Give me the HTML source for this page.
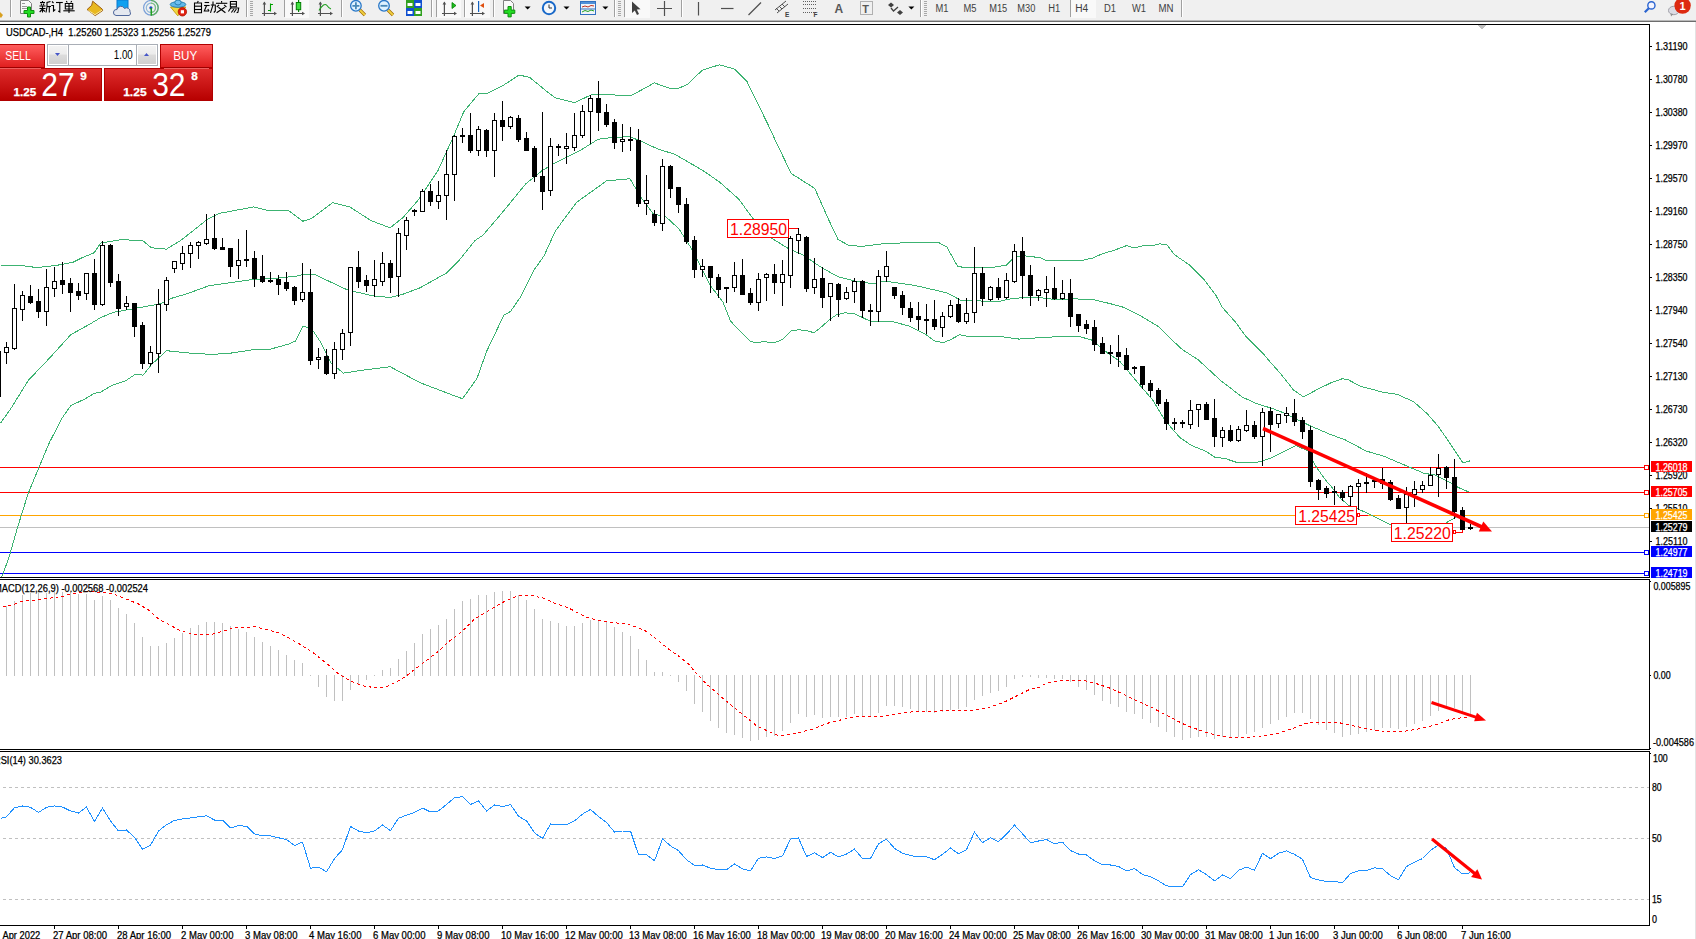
<!DOCTYPE html><html><head><meta charset="utf-8"><style>html,body{margin:0;padding:0;width:1696px;height:939px;overflow:hidden;background:#fff}svg{position:absolute;left:0;top:0;display:block}text{font-family:"Liberation Sans",sans-serif}.bt{stroke:currentColor}</style></head><body>
<svg width="1696" height="939" viewBox="0 0 1696 939">
<rect x="0" y="0" width="1696" height="20" fill="#f0f0f0"/><rect x="0" y="20" width="1696" height="1" fill="#b9b9b9"/><rect x="0" y="21" width="1696" height="1" fill="#6d6d6d"/><polygon points="0,12 3,15 1,18 0,17" fill="#d8a020"/><rect x="10" y="0" width="1" height="17" fill="#a0a0a0"/><rect x="11" y="0" width="1" height="17" fill="#ffffff"/><path d="M20.5,0.5 h8 l3,3 v10 h-11 z" fill="#fafafa" stroke="#808080" stroke-width="1"/><path d="M22,3.5 h3 M22,6.5 h5 M22,8.5 h5" stroke="#9a9a9a" stroke-width="1"/><path d="M27.5,7 h3 v3.5 h3.5 v3 h-3.5 v3.5 h-3 v-3.5 h-3.5 v-3 h3.5 z" fill="#22dd22" stroke="#109010" stroke-width="1"/><g transform="translate(39,1) scale(1.0)" fill="none" stroke="#000" stroke-width="1.1"><path d="M1,1.5 h5"/><path d="M3.5,0 v1.5"/><path d="M2,2.5 l0.8,1.8"/><path d="M5,2.5 l-0.8,1.8"/><path d="M0.5,5 h6"/><path d="M0.5,7.5 h6"/><path d="M3.5,5 v6.5"/><path d="M3.5,8 l-2.8,3"/><path d="M3.5,8.5 l2.5,2"/><path d="M11.5,0.5 l-3.5,1 v4.5 l-1,5.5"/><path d="M8,5.5 h4"/><path d="M10.3,5.5 v6"/></g><g transform="translate(51,1) scale(1.0)" fill="none" stroke="#000" stroke-width="1.1"><path d="M1,0.5 l1.5,1.5"/><path d="M0.3,4.5 h2.2 v5.5 l1.8,-1.5"/><path d="M5,1.5 h6.8"/><path d="M8.8,1.5 v9.5 l-1.6,-1"/></g><g transform="translate(63,1) scale(1.0)" fill="none" stroke="#000" stroke-width="1.1"><path d="M3.3,0 l1,1.5"/><path d="M8.7,0 l-1,1.5"/><path d="M2.3,2.5 h7.4 v5.5 h-7.4 z"/><path d="M2.3,5.2 h7.4"/><path d="M6,2.5 v9.5"/><path d="M0.3,9.8 h11.4"/></g><g transform="translate(192.0,1) scale(1.0)" fill="none" stroke="#000" stroke-width="1.1"><path d="M6.3,0 l-1,1.8"/><path d="M2.5,2 h7 v9.8 h-7 z"/><path d="M2.5,5.2 h7"/><path d="M2.5,8.5 h7"/></g><g transform="translate(203.8,1) scale(1.0)" fill="none" stroke="#000" stroke-width="1.1"><path d="M0.8,1.5 h4.5"/><path d="M0.3,4.5 h5.5"/><path d="M2.8,4.5 l-2.3,5.5 h4.8"/><path d="M4,8 l1.2,2"/><path d="M7,4 h4.5 v6 l-1.5,1.5"/><path d="M9.2,0.5 v3.5 l-2.5,7.8"/></g><g transform="translate(215.6,1) scale(1.0)" fill="none" stroke="#000" stroke-width="1.1"><path d="M6,0 v1.8"/><path d="M0.3,2.3 h11.4"/><path d="M3.5,3.8 l-2.3,2.2"/><path d="M8.5,3.8 l2.3,2.2"/><path d="M2.8,6.2 l7,5.6"/><path d="M9.2,6.2 l-8.2,5.6"/></g><g transform="translate(227.4,1) scale(1.0)" fill="none" stroke="#000" stroke-width="1.1"><path d="M3,0.5 h6 v5.3 h-6 z"/><path d="M3,3.1 h6"/><path d="M2.5,7 h8.8 l-0.8,4.3 l-1.3,0.5"/><path d="M4,6 l-3,4.5"/><path d="M6.5,8 l-2.5,3.5"/><path d="M9,8 l-2.5,3.5"/></g><polygon points="92.7,1.2 102.3,9.2 102.6,10.6 95.2,15.6 87.1,9.6 91.7,5.3" fill="#e8b820" stroke="#a06010" stroke-width="1"/><path d="M88.5,10.5 l6.5,4.2 l7,-4.5" stroke="#f8e8a0" stroke-width="1" fill="none"/><path d="M117,0 h11 v9 h-11 z" fill="#10a0f0" stroke="#0878d0" stroke-width="1"/><path d="M116,15.5 a3,3 0 0 1 1,-6 a4,4 0 0 1 7.5,-1 a3.5,3.5 0 0 1 5.5,3.5 a2.2,2.2 0 0 1 -1,3.5 z" fill="#e4e8f0" stroke="#50689c" stroke-width="1"/><g fill="none" stroke-width="1.2"><circle cx="150.9" cy="7.8" r="7.3" stroke="#7aa0d8"/><circle cx="150.9" cy="7.8" r="4.6" stroke="#90b8d8"/><path d="M150.9,0.5 a7.3,7.3 0 0 1 0,14.6" stroke="#60b060"/><path d="M150.9,3.2 a4.6,4.6 0 0 1 0,9.2" stroke="#80c080"/></g><circle cx="150.9" cy="7.8" r="1.6" fill="#2050c0"/><rect x="150.5" y="8" width="1.5" height="7.6" fill="#20a020"/><polygon points="170.5,7 185.8,7 177.8,15.8" fill="#f0d840" stroke="#c8a010" stroke-width="1"/><ellipse cx="178" cy="4.5" rx="7.8" ry="2.8" fill="#60b8e8" stroke="#2880b0" stroke-width="1"/><ellipse cx="178" cy="2.5" rx="3.2" ry="2.5" fill="#70c0f0" stroke="#2880b0" stroke-width="1"/><circle cx="182.4" cy="11.8" r="4.2" fill="#e02010" stroke="#b01000" stroke-width="0.8"/><rect x="180.8" y="10.2" width="3.2" height="3.2" fill="#fff"/><rect x="246" y="0" width="1" height="17" fill="#a0a0a0"/><rect x="247" y="0" width="1" height="17" fill="#ffffff"/><rect x="250" y="1" width="3" height="1" fill="#a8a8a8"/><rect x="250" y="3" width="3" height="1" fill="#a8a8a8"/><rect x="250" y="5" width="3" height="1" fill="#a8a8a8"/><rect x="250" y="7" width="3" height="1" fill="#a8a8a8"/><rect x="250" y="9" width="3" height="1" fill="#a8a8a8"/><rect x="250" y="11" width="3" height="1" fill="#a8a8a8"/><rect x="250" y="13" width="3" height="1" fill="#a8a8a8"/><rect x="250" y="15" width="3" height="1" fill="#a8a8a8"/><path d="M264.4,2.5 v13.5 M262,13.5 h14" stroke="#505050" stroke-width="1.2" fill="none"/><polygon points="264.4,1.5 262.6,4.5 266.2,4.5" fill="#505050"/><polygon points="277,13.5 274,11.7 274,15.3" fill="#505050"/><path d="M270.5,3.5 v8 M270.5,4.5 h2.5 M268,10.5 h2.5" stroke="#00a000" stroke-width="1.1" fill="none"/><rect x="284" y="0" width="1" height="17" fill="#a0a0a0"/><rect x="285" y="0" width="1" height="17" fill="#ffffff"/><rect x="285" y="0" width="24" height="18" fill="#f9f9f9"/><path d="M292.4,2.5 v13.5 M290,13.5 h14" stroke="#505050" stroke-width="1.2" fill="none"/><polygon points="292.4,1.5 290.6,4.5 294.2,4.5" fill="#505050"/><polygon points="305,13.5 302,11.7 302,15.3" fill="#505050"/><rect x="298" y="0" width="1.2" height="12" fill="#008000"/><rect x="296.3" y="2.5" width="4.4" height="7.2" fill="#40e040" stroke="#008000" stroke-width="1"/><path d="M320.4,2.5 v13.5 M318,13.5 h14" stroke="#505050" stroke-width="1.2" fill="none"/><polygon points="320.4,1.5 318.6,4.5 322.2,4.5" fill="#505050"/><polygon points="333,13.5 330,11.7 330,15.3" fill="#505050"/><path d="M319,10.5 Q324,2 327,5.5 Q329,8.5 331,9" stroke="#20a020" stroke-width="1.1" fill="none"/><rect x="341" y="0" width="1" height="17" fill="#a0a0a0"/><rect x="342" y="0" width="1" height="17" fill="#ffffff"/><path d="M359.9,10 l5,5" stroke="#a06800" stroke-width="3.2"/><path d="M359.9,10 l5,5" stroke="#f0d040" stroke-width="1.8"/><circle cx="355.9" cy="5.8" r="5.3" fill="#dff2ff" stroke="#2a78c8" stroke-width="1.3"/><path d="M352.4,5.8 h7 M355.9,2.3 v7" stroke="#4888b8" stroke-width="1.8"/><path d="M388,10 l5,5" stroke="#a06800" stroke-width="3.2"/><path d="M388,10 l5,5" stroke="#f0d040" stroke-width="1.8"/><circle cx="384" cy="5.8" r="5.3" fill="#dff2ff" stroke="#2a78c8" stroke-width="1.3"/><path d="M380.5,5.8 h7" stroke="#4888b8" stroke-width="1.8"/><rect x="406" y="0" width="8" height="8" fill="#30a020"/><rect x="407.5" y="3" width="5" height="3" fill="#fff"/><rect x="414" y="0" width="8" height="8" fill="#1050d0"/><rect x="415.5" y="3" width="5" height="3" fill="#fff"/><rect x="406" y="8" width="8" height="8" fill="#1050d0"/><rect x="407.5" y="11" width="5" height="3" fill="#fff"/><rect x="414" y="8" width="8" height="8" fill="#30a020"/><rect x="415.5" y="11" width="5" height="3" fill="#fff"/><rect x="431" y="0" width="1" height="17" fill="#a0a0a0"/><rect x="432" y="0" width="1" height="17" fill="#ffffff"/><rect x="436" y="0" width="1" height="17" fill="#a0a0a0"/><rect x="437" y="0" width="1" height="17" fill="#ffffff"/><rect x="437" y="0" width="24" height="18" fill="#f9f9f9"/><path d="M444.4,2.5 v13.5 M442,13.5 h14" stroke="#505050" stroke-width="1.2" fill="none"/><polygon points="444.4,1.5 442.6,4.5 446.2,4.5" fill="#505050"/><polygon points="457,13.5 454,11.7 454,15.3" fill="#505050"/><polygon points="452,2.5 452,8.5 456,5.5" fill="#20c020" stroke="#008000" stroke-width="0.8"/><rect x="465" y="0" width="25" height="18" fill="#f9f9f9"/><rect x="464" y="0" width="1" height="17" fill="#a0a0a0"/><rect x="465" y="0" width="1" height="17" fill="#ffffff"/><path d="M472.4,2.5 v13.5 M470,13.5 h14" stroke="#505050" stroke-width="1.2" fill="none"/><polygon points="472.4,1.5 470.6,4.5 474.2,4.5" fill="#505050"/><polygon points="485,13.5 482,11.7 482,15.3" fill="#505050"/><rect x="478" y="1" width="1.2" height="11" fill="#1060c0"/><polygon points="480,5.5 484,3 484,8" fill="#e05010"/><rect x="493" y="0" width="1" height="17" fill="#a0a0a0"/><rect x="494" y="0" width="1" height="17" fill="#ffffff"/><path d="M503.5,0.5 h7 l3,3 v10 h-10 z" fill="#fafafa" stroke="#808080" stroke-width="1"/><path d="M508,6.5 h3.2 v3.6 h3.6 v3.2 h-3.6 v3.6 h-3.2 v-3.6 h-3.6 v-3.2 h3.6 z" fill="#22dd22" stroke="#109010" stroke-width="1"/><polygon points="524.6,6.5 530.6,6.5 527.6,9.5" fill="#000"/><circle cx="549" cy="8" r="7.2" fill="#1868c8"/><circle cx="549" cy="8" r="5.2" fill="#f4f8fc"/><path d="M549,4.5 v3.5 h3" stroke="#303030" stroke-width="1" fill="none"/><polygon points="563.5,6.5 569.5,6.5 566.5,9.5" fill="#000"/><rect x="580.5" y="1.5" width="15" height="13" fill="#f0f4fa" stroke="#3070c0" stroke-width="1"/><rect x="581" y="2" width="14" height="2" fill="#5090d8"/><path d="M582,7 l3,-1 l3,1 l3,-1.5 l3,0.5" stroke="#c03020" stroke-width="1" fill="none"/><path d="M582,12 l3,-1.5 l3,1 l3,-1.5 l3,1" stroke="#20a020" stroke-width="1" fill="none"/><path d="M581,9 h14" stroke="#3070c0" stroke-width="1"/><polygon points="602.4,6.5 608.4,6.5 605.4,9.5" fill="#000"/><rect x="614" y="0" width="1" height="17" fill="#a0a0a0"/><rect x="615" y="0" width="1" height="17" fill="#ffffff"/><rect x="618" y="1" width="3" height="1" fill="#a8a8a8"/><rect x="618" y="3" width="3" height="1" fill="#a8a8a8"/><rect x="618" y="5" width="3" height="1" fill="#a8a8a8"/><rect x="618" y="7" width="3" height="1" fill="#a8a8a8"/><rect x="618" y="9" width="3" height="1" fill="#a8a8a8"/><rect x="618" y="11" width="3" height="1" fill="#a8a8a8"/><rect x="618" y="13" width="3" height="1" fill="#a8a8a8"/><rect x="618" y="15" width="3" height="1" fill="#a8a8a8"/><rect x="624" y="0" width="1" height="17" fill="#a0a0a0"/><rect x="625" y="0" width="1" height="17" fill="#ffffff"/><rect x="625" y="0" width="25" height="18" fill="#f9f9f9"/><polygon points="632,1.5 632,13 634.8,10.5 637,15 639,14 636.8,9.5 640.5,9.2" fill="#404040"/><path d="M657,8.5 h15 M664.5,1 v15" stroke="#505050" stroke-width="1.2"/><rect x="681" y="0" width="1" height="17" fill="#a0a0a0"/><rect x="682" y="0" width="1" height="17" fill="#ffffff"/><path d="M698.5,2 v13.5" stroke="#505050" stroke-width="1.2"/><path d="M721,8.5 h12.5" stroke="#505050" stroke-width="1.2"/><path d="M748.5,15 l12.5,-12.5" stroke="#505050" stroke-width="1.2"/><path d="M775,10 l11,-9 M777,13 l11,-9 M776,8 l3,3 M779,6 l3,3 M782,4 l3,3" stroke="#505050" stroke-width="1" fill="none"/><text x="785" y="16.5" font-size="6.5" font-weight="bold" fill="#404040">E</text><path d="M803,1.5 h14" stroke="#606060" stroke-width="1" stroke-dasharray="1 1"/><path d="M803,4.5 h14" stroke="#606060" stroke-width="1" stroke-dasharray="1 1"/><path d="M803,8.5 h14" stroke="#606060" stroke-width="1" stroke-dasharray="1 1"/><path d="M803,12.5 h14" stroke="#606060" stroke-width="1" stroke-dasharray="1 1"/><text x="813.5" y="16.5" font-size="6.5" font-weight="bold" fill="#404040">F</text><text x="834.5" y="13.2" font-size="12" font-weight="bold" fill="#585858">A</text><rect x="860.5" y="1.5" width="12" height="13" fill="none" stroke="#707070" stroke-width="1" stroke-dasharray="1 1"/><text x="862.3" y="12.5" font-size="11" font-weight="bold" fill="#585858">T</text><polygon points="891,2.5 894,5 891,7.5 888,5" fill="#404040"/><polygon points="900,10 903,12.5 900,15 897,12.5" fill="#404040"/><path d="M891,8 l2.5,3 l4.5,-4" stroke="#404040" stroke-width="1.3" fill="none"/><polygon points="908.4,6.5 914.4,6.5 911.4,9.5" fill="#000"/><rect x="920" y="0" width="1" height="17" fill="#a0a0a0"/><rect x="921" y="0" width="1" height="17" fill="#ffffff"/><rect x="924" y="1" width="3" height="1" fill="#a8a8a8"/><rect x="924" y="3" width="3" height="1" fill="#a8a8a8"/><rect x="924" y="5" width="3" height="1" fill="#a8a8a8"/><rect x="924" y="7" width="3" height="1" fill="#a8a8a8"/><rect x="924" y="9" width="3" height="1" fill="#a8a8a8"/><rect x="924" y="11" width="3" height="1" fill="#a8a8a8"/><rect x="924" y="13" width="3" height="1" fill="#a8a8a8"/><rect x="924" y="15" width="3" height="1" fill="#a8a8a8"/><text x="935.5" y="12.3" font-size="10" fill="#404040" textLength="13" lengthAdjust="spacingAndGlyphs">M1</text><text x="963.5" y="12.3" font-size="10" fill="#404040" textLength="13" lengthAdjust="spacingAndGlyphs">M5</text><text x="989.2" y="12.3" font-size="10" fill="#404040" textLength="18" lengthAdjust="spacingAndGlyphs">M15</text><text x="1017.3" y="12.3" font-size="10" fill="#404040" textLength="18" lengthAdjust="spacingAndGlyphs">M30</text><text x="1048.3" y="12.3" font-size="10" fill="#404040" textLength="12" lengthAdjust="spacingAndGlyphs">H1</text><text x="1104" y="12.3" font-size="10" fill="#404040" textLength="12" lengthAdjust="spacingAndGlyphs">D1</text><text x="1132" y="12.3" font-size="10" fill="#404040" textLength="14" lengthAdjust="spacingAndGlyphs">W1</text><text x="1158.6" y="12.3" font-size="10" fill="#404040" textLength="15" lengthAdjust="spacingAndGlyphs">MN</text><rect x="1070" y="0" width="1" height="17" fill="#a0a0a0"/><rect x="1071" y="0" width="1" height="17" fill="#ffffff"/><rect x="1071" y="0" width="25" height="18" fill="#f9f9f9"/><text x="1075.2" y="12.3" font-size="10" fill="#404040" textLength="13" lengthAdjust="spacingAndGlyphs">H4</text><rect x="1181" y="0" width="1" height="17" fill="#a0a0a0"/><rect x="1182" y="0" width="1" height="17" fill="#ffffff"/><circle cx="1651.4" cy="5.4" r="3.6" fill="#f4f4ff" stroke="#2a64d0" stroke-width="1.4"/><path d="M1648.8,8.2 l-4,4" stroke="#2a64d0" stroke-width="2.2"/><ellipse cx="1673.8" cy="10.5" rx="5.3" ry="4.2" fill="#dcdce4" stroke="#a0a0a8" stroke-width="1"/><polygon points="1670.5,13.5 1671,16.5 1673.5,14" fill="#909090"/><circle cx="1682.6" cy="5.6" r="8.2" fill="#dd2a10"/><text x="1682.6" y="10.3" font-size="11" font-family="Liberation Serif" font-weight="bold" fill="#fff" text-anchor="middle">1</text>
<rect x="0" y="22" width="1696" height="917" fill="#fff"/>
<rect x="1695" y="22" width="1" height="917" fill="#e3e3e3"/>
<g shape-rendering="crispEdges">
<defs><clipPath id="cp"><rect x="0" y="25" width="1649" height="552"/></clipPath><clipPath id="cm"><rect x="0" y="580" width="1649" height="169"/></clipPath><clipPath id="cr"><rect x="0" y="752" width="1649" height="173"/></clipPath></defs>
<g clip-path="url(#cp)">
<rect x="0" y="467" width="1649" height="1" fill="#ff0000"/>
<rect x="0" y="492" width="1649" height="1" fill="#ff0000"/>
<rect x="0" y="515" width="1649" height="1" fill="#ffa500"/>
<rect x="0" y="527" width="1649" height="1" fill="#c0c0c0"/>
<rect x="0" y="552" width="1649" height="1" fill="#0000ff"/>
<rect x="0" y="573" width="1649" height="1" fill="#0000ff"/>
<polyline points="0.5,265.5 21.8,265.5 36.7,267.6 55.9,265.5 72.9,262.3 81.4,258 94.2,252.7 100.5,243.1 121.8,239.5 143.1,241 151.5,247.8 166.5,249.1 181.5,239.9 207,219.7 219.8,213.3 253.9,206.9 266.7,210.1 288,210.1 302.9,221.2 311.5,218.6 332.7,202.6 349.8,206.9 371.1,220.7 390.2,227.8 403,217.5 417.9,200.5 438.2,170.2 453.1,137.2 463.8,111.6 478.7,93.9 487.2,93.5 502.1,86.1 519.2,75 529.8,77.5 546.8,91.4 555.4,97.8 574.5,102.7 591.6,94.6 615,95 631,95.7 654.4,82.9 670.4,88.6 678.9,88.2 687.4,84.4 702.4,70.1 719.4,64.8 734.3,69 747.1,81.8 770.5,129.7 775.3,140.5 791.3,173.5 814.7,188.4 827.5,217.2 838.1,239.6 848.8,245.3 861.6,246.4 882.9,243.8 914.8,242.3 938.3,242.3 946.8,247 957.5,266.2 966,267.9 989.4,267.9 1006.4,265.1 1012.8,258.7 1021.4,255.5 1040.5,257.7 1046.5,260.9 1081.6,260.5 1092.8,258 1102.4,253.7 1113.6,250.5 1126.4,245.7 1134.4,247.8 1142.3,246 1153.5,245.4 1159.9,243.8 1167.1,244.9 1174.3,254.5 1190.3,265.6 1203.1,278.4 1215.8,295.2 1222.2,307.2 1235,321.6 1246.2,336.7 1249.8,340.5 1264.7,355.4 1267,358.3 1279.6,372.6 1286.1,380.5 1293.1,389.7 1303.5,396.9 1316.9,389.7 1330.5,383 1342.3,378.7 1348.2,379.7 1360.2,386.2 1382.5,392.1 1397.4,394.4 1413.8,401.8 1427.3,413.8 1437.7,425.7 1448.1,440.6 1463.1,463 1470.5,460.7" fill="none" stroke="#3cb371" stroke-width="1"/>
<polyline points="0.5,423.1 11.1,408.2 28.2,380.5 49.5,358.1 70.8,334.7 90,324 100.5,317.7 113.3,312.3 143.1,307 160.2,303.8 170.8,298.5 185.7,294.2 209.1,285.7 253.9,279.3 275.2,278.3 296.5,276.1 305,274 313.5,274 347.6,290 373.2,295.9 390.2,297.5 403,294.2 420.1,287.8 446.3,273.1 459.7,259.7 475,240.5 482.9,235.2 502.1,212.8 525.5,184.1 542.6,170.2 555.4,162.8 580.9,150 598,139.3 615,137.2 629.9,136.8 640.6,141 657.6,148.9 674.6,154.2 702.4,170.2 719.4,181.9 738.6,199 753.5,219.2 772.1,238.5 789.2,249.1 804.1,255.5 821.1,267.3 838.1,276.8 855.2,281.1 872.2,283.7 885,281.1 914.8,285.4 946.8,292.8 961.7,300.7 1000,301.3 1008.6,299.2 1021.4,297.7 1040.5,297.7 1054.5,299.5 1070.4,298.9 1091.2,299.2 1110.4,303.7 1123.2,307.2 1142.3,316.8 1158.3,326.4 1171.1,339.1 1182.3,349.5 1198.3,359.9 1220.6,380.5 1242.4,397.2 1257.3,403.9 1272.2,408.4 1285.6,413.6 1294.5,418.1 1309.5,425.5 1330.5,434.5 1345.2,439.9 1366.1,451 1384,456.3 1404.9,465.2 1424.3,473.4 1434.7,474.9 1449.6,482.4 1458.6,487.6 1469,492.1" fill="none" stroke="#3cb371" stroke-width="1"/>
<polyline points="1.6,577.5 9,557.3 17.5,527.5 28.2,493.4 38.8,467.8 49.5,442.3 62.3,417.8 70.8,405.6 85.7,398.6 94.2,393.3 100.5,392.2 111.2,385.8 126.1,380.5 135.7,374.1 143.1,375.2 151.6,364.5 166.5,350.7 177.2,351.8 194.2,353.5 211.3,354.3 228.3,353.5 253.9,349.6 270.9,349 288,344.3 295.4,341.1 302.9,326.2 311.4,328.3 319.9,341.1 330.6,362.4 343.4,373.1 364.7,369.9 390.2,366.7 420.1,382.7 452,394.9 462.5,398.7 476.9,378.6 486.5,351.7 503.8,315.3 510.5,311.5 521.1,296.1 534.5,269.3 544.1,255.8 555.4,230.9 576.7,202.2 587.3,194.7 606.5,180.9 629.9,178.7 640.6,196.8 653.4,213.9 666.2,217.1 678.9,228.8 693.8,252.2 710.3,285.4 723.1,302.4 730.5,321 739,330.2 750.3,341.5 756,342.7 763,341.8 770.1,342.2 774.4,342.7 782.9,339.4 791.3,330.9 798.4,329.8 806.9,330.6 814,332.8 822.5,326 829.5,319.6 836.6,314.7 845.1,312.8 855,313.9 870.6,321.4 876.2,321 890.4,321 908.8,326 925.8,334.5 934.3,340.8 942.8,342.7 949.8,340.1 959.7,334.7 970.5,337 978.8,336.5 1000,336.5 1019.2,339.1 1040.5,337.6 1057.7,336.7 1080,336.7 1091.2,339.9 1097.6,344.7 1107.2,352.7 1120,361.5 1135.9,380.5 1142.4,388.2 1152.9,400.2 1164.8,420.3 1179.7,437.4 1191.6,445.6 1205.1,450.9 1215.5,457.6 1224.5,458.3 1237.9,462.8 1249.8,462 1255.8,462.8 1270.7,458.3 1279.6,453.8 1296,445.6 1308,450.9 1315.4,465.8 1325.9,480.5 1330.3,485.3 1339.3,497.3 1349.7,506.2 1358.3,509.1 1371.3,515 1390.8,524.7 1410.5,530.5 1430.5,530.5 1444.8,523.5 1455.5,517.5 1462.5,513.5" fill="none" stroke="#3cb371" stroke-width="1"/>
<rect x="-2" y="340" width="1" height="61" fill="#000"/>
<rect x="-4" y="351" width="5" height="46" fill="#000"/>
<rect x="6" y="342" width="1" height="22" fill="#000"/>
<rect x="4" y="347" width="5" height="6" fill="#000"/>
<rect x="5" y="348" width="3" height="4" fill="#fff"/>
<rect x="14" y="284" width="1" height="66" fill="#000"/>
<rect x="12" y="308" width="5" height="41" fill="#000"/>
<rect x="13" y="309" width="3" height="39" fill="#fff"/>
<rect x="22" y="291" width="1" height="30" fill="#000"/>
<rect x="20" y="295" width="5" height="15" fill="#000"/>
<rect x="21" y="296" width="3" height="13" fill="#fff"/>
<rect x="30" y="285" width="1" height="19" fill="#000"/>
<rect x="28" y="296" width="5" height="7" fill="#000"/>
<rect x="38" y="289" width="1" height="29" fill="#000"/>
<rect x="36" y="301" width="5" height="11" fill="#000"/>
<rect x="46" y="269" width="1" height="57" fill="#000"/>
<rect x="44" y="287" width="5" height="25" fill="#000"/>
<rect x="45" y="288" width="3" height="23" fill="#fff"/>
<rect x="54" y="267" width="1" height="30" fill="#000"/>
<rect x="52" y="281" width="5" height="8" fill="#000"/>
<rect x="53" y="282" width="3" height="6" fill="#fff"/>
<rect x="62" y="262" width="1" height="32" fill="#000"/>
<rect x="60" y="280" width="5" height="5" fill="#000"/>
<rect x="70" y="278" width="1" height="34" fill="#000"/>
<rect x="68" y="283" width="5" height="10" fill="#000"/>
<rect x="78" y="283" width="1" height="17" fill="#000"/>
<rect x="76" y="291" width="5" height="5" fill="#000"/>
<rect x="86" y="273" width="1" height="27" fill="#000"/>
<rect x="84" y="273" width="5" height="21" fill="#000"/>
<rect x="85" y="274" width="3" height="19" fill="#fff"/>
<rect x="94" y="259" width="1" height="51" fill="#000"/>
<rect x="92" y="273" width="5" height="32" fill="#000"/>
<rect x="102" y="241" width="1" height="65" fill="#000"/>
<rect x="100" y="245" width="5" height="60" fill="#000"/>
<rect x="101" y="246" width="3" height="58" fill="#fff"/>
<rect x="110" y="244" width="1" height="43" fill="#000"/>
<rect x="108" y="245" width="5" height="38" fill="#000"/>
<rect x="118" y="274" width="1" height="42" fill="#000"/>
<rect x="116" y="281" width="5" height="28" fill="#000"/>
<rect x="126" y="296" width="1" height="14" fill="#000"/>
<rect x="124" y="303" width="5" height="4" fill="#000"/>
<rect x="125" y="304" width="3" height="2" fill="#fff"/>
<rect x="134" y="303" width="1" height="34" fill="#000"/>
<rect x="132" y="303" width="5" height="24" fill="#000"/>
<rect x="142" y="322" width="1" height="47" fill="#000"/>
<rect x="140" y="325" width="5" height="39" fill="#000"/>
<rect x="150" y="346" width="1" height="20" fill="#000"/>
<rect x="148" y="352" width="5" height="12" fill="#000"/>
<rect x="149" y="353" width="3" height="10" fill="#fff"/>
<rect x="158" y="289" width="1" height="84" fill="#000"/>
<rect x="156" y="304" width="5" height="50" fill="#000"/>
<rect x="157" y="305" width="3" height="48" fill="#fff"/>
<rect x="166" y="277" width="1" height="34" fill="#000"/>
<rect x="164" y="280" width="5" height="25" fill="#000"/>
<rect x="165" y="281" width="3" height="23" fill="#fff"/>
<rect x="174" y="261" width="1" height="12" fill="#000"/>
<rect x="172" y="261" width="5" height="8" fill="#000"/>
<rect x="173" y="262" width="3" height="6" fill="#fff"/>
<rect x="182" y="246" width="1" height="24" fill="#000"/>
<rect x="180" y="253" width="5" height="11" fill="#000"/>
<rect x="181" y="254" width="3" height="9" fill="#fff"/>
<rect x="190" y="242" width="1" height="26" fill="#000"/>
<rect x="188" y="245" width="5" height="9" fill="#000"/>
<rect x="189" y="246" width="3" height="7" fill="#fff"/>
<rect x="198" y="241" width="1" height="18" fill="#000"/>
<rect x="196" y="242" width="5" height="4" fill="#000"/>
<rect x="197" y="243" width="3" height="2" fill="#fff"/>
<rect x="206" y="214" width="1" height="31" fill="#000"/>
<rect x="204" y="239" width="5" height="5" fill="#000"/>
<rect x="205" y="240" width="3" height="3" fill="#fff"/>
<rect x="214" y="214" width="1" height="36" fill="#000"/>
<rect x="212" y="238" width="5" height="11" fill="#000"/>
<rect x="222" y="238" width="1" height="12" fill="#000"/>
<rect x="220" y="247" width="5" height="3" fill="#000"/>
<rect x="230" y="248" width="1" height="29" fill="#000"/>
<rect x="228" y="248" width="5" height="19" fill="#000"/>
<rect x="238" y="239" width="1" height="40" fill="#000"/>
<rect x="236" y="260" width="5" height="6" fill="#000"/>
<rect x="237" y="261" width="3" height="4" fill="#fff"/>
<rect x="246" y="230" width="1" height="37" fill="#000"/>
<rect x="244" y="259" width="5" height="2" fill="#000"/>
<rect x="254" y="251" width="1" height="36" fill="#000"/>
<rect x="252" y="258" width="5" height="21" fill="#000"/>
<rect x="262" y="255" width="1" height="28" fill="#000"/>
<rect x="260" y="276" width="5" height="6" fill="#000"/>
<rect x="270" y="272" width="1" height="11" fill="#000"/>
<rect x="268" y="280" width="5" height="2" fill="#000"/>
<rect x="278" y="275" width="1" height="20" fill="#000"/>
<rect x="276" y="279" width="5" height="6" fill="#000"/>
<rect x="286" y="272" width="1" height="19" fill="#000"/>
<rect x="284" y="282" width="5" height="7" fill="#000"/>
<rect x="294" y="286" width="1" height="19" fill="#000"/>
<rect x="292" y="287" width="5" height="14" fill="#000"/>
<rect x="302" y="263" width="1" height="39" fill="#000"/>
<rect x="300" y="292" width="5" height="8" fill="#000"/>
<rect x="301" y="293" width="3" height="6" fill="#fff"/>
<rect x="310" y="269" width="1" height="96" fill="#000"/>
<rect x="308" y="292" width="5" height="69" fill="#000"/>
<rect x="318" y="348" width="1" height="21" fill="#000"/>
<rect x="316" y="357" width="5" height="3" fill="#000"/>
<rect x="317" y="358" width="3" height="1" fill="#fff"/>
<rect x="326" y="349" width="1" height="26" fill="#000"/>
<rect x="324" y="356" width="5" height="18" fill="#000"/>
<rect x="334" y="342" width="1" height="37" fill="#000"/>
<rect x="332" y="349" width="5" height="25" fill="#000"/>
<rect x="333" y="350" width="3" height="23" fill="#fff"/>
<rect x="342" y="329" width="1" height="31" fill="#000"/>
<rect x="340" y="333" width="5" height="17" fill="#000"/>
<rect x="341" y="334" width="3" height="15" fill="#fff"/>
<rect x="350" y="267" width="1" height="79" fill="#000"/>
<rect x="348" y="267" width="5" height="66" fill="#000"/>
<rect x="349" y="268" width="3" height="64" fill="#fff"/>
<rect x="358" y="251" width="1" height="37" fill="#000"/>
<rect x="356" y="267" width="5" height="15" fill="#000"/>
<rect x="366" y="275" width="1" height="17" fill="#000"/>
<rect x="364" y="280" width="5" height="6" fill="#000"/>
<rect x="374" y="260" width="1" height="37" fill="#000"/>
<rect x="372" y="279" width="5" height="7" fill="#000"/>
<rect x="373" y="280" width="3" height="5" fill="#fff"/>
<rect x="382" y="252" width="1" height="34" fill="#000"/>
<rect x="380" y="263" width="5" height="19" fill="#000"/>
<rect x="381" y="264" width="3" height="17" fill="#fff"/>
<rect x="390" y="260" width="1" height="33" fill="#000"/>
<rect x="388" y="263" width="5" height="15" fill="#000"/>
<rect x="398" y="228" width="1" height="69" fill="#000"/>
<rect x="396" y="233" width="5" height="44" fill="#000"/>
<rect x="397" y="234" width="3" height="42" fill="#fff"/>
<rect x="406" y="217" width="1" height="33" fill="#000"/>
<rect x="404" y="220" width="5" height="16" fill="#000"/>
<rect x="405" y="221" width="3" height="14" fill="#fff"/>
<rect x="414" y="209" width="1" height="7" fill="#000"/>
<rect x="412" y="210" width="5" height="2" fill="#000"/>
<rect x="422" y="189" width="1" height="23" fill="#000"/>
<rect x="420" y="191" width="5" height="21" fill="#000"/>
<rect x="421" y="192" width="3" height="19" fill="#fff"/>
<rect x="430" y="184" width="1" height="22" fill="#000"/>
<rect x="428" y="191" width="5" height="11" fill="#000"/>
<rect x="438" y="181" width="1" height="28" fill="#000"/>
<rect x="436" y="195" width="5" height="7" fill="#000"/>
<rect x="437" y="196" width="3" height="5" fill="#fff"/>
<rect x="446" y="150" width="1" height="70" fill="#000"/>
<rect x="444" y="174" width="5" height="22" fill="#000"/>
<rect x="445" y="175" width="3" height="20" fill="#fff"/>
<rect x="454" y="135" width="1" height="66" fill="#000"/>
<rect x="452" y="136" width="5" height="39" fill="#000"/>
<rect x="453" y="137" width="3" height="37" fill="#fff"/>
<rect x="462" y="128" width="1" height="15" fill="#000"/>
<rect x="460" y="135" width="5" height="2" fill="#000"/>
<rect x="470" y="113" width="1" height="40" fill="#000"/>
<rect x="468" y="135" width="5" height="16" fill="#000"/>
<rect x="478" y="126" width="1" height="30" fill="#000"/>
<rect x="476" y="129" width="5" height="22" fill="#000"/>
<rect x="477" y="130" width="3" height="20" fill="#fff"/>
<rect x="486" y="129" width="1" height="28" fill="#000"/>
<rect x="484" y="130" width="5" height="21" fill="#000"/>
<rect x="494" y="113" width="1" height="64" fill="#000"/>
<rect x="492" y="120" width="5" height="31" fill="#000"/>
<rect x="493" y="121" width="3" height="29" fill="#fff"/>
<rect x="502" y="101" width="1" height="40" fill="#000"/>
<rect x="500" y="120" width="5" height="7" fill="#000"/>
<rect x="510" y="116" width="1" height="13" fill="#000"/>
<rect x="508" y="117" width="5" height="10" fill="#000"/>
<rect x="509" y="118" width="3" height="8" fill="#fff"/>
<rect x="518" y="115" width="1" height="27" fill="#000"/>
<rect x="516" y="118" width="5" height="22" fill="#000"/>
<rect x="526" y="132" width="1" height="19" fill="#000"/>
<rect x="524" y="138" width="5" height="13" fill="#000"/>
<rect x="534" y="146" width="1" height="36" fill="#000"/>
<rect x="532" y="148" width="5" height="29" fill="#000"/>
<rect x="542" y="112" width="1" height="98" fill="#000"/>
<rect x="540" y="176" width="5" height="16" fill="#000"/>
<rect x="550" y="138" width="1" height="58" fill="#000"/>
<rect x="548" y="146" width="5" height="45" fill="#000"/>
<rect x="549" y="147" width="3" height="43" fill="#fff"/>
<rect x="558" y="144" width="1" height="12" fill="#000"/>
<rect x="556" y="146" width="5" height="2" fill="#000"/>
<rect x="566" y="133" width="1" height="31" fill="#000"/>
<rect x="564" y="146" width="5" height="3" fill="#000"/>
<rect x="565" y="147" width="3" height="1" fill="#fff"/>
<rect x="574" y="113" width="1" height="38" fill="#000"/>
<rect x="572" y="135" width="5" height="13" fill="#000"/>
<rect x="573" y="136" width="3" height="11" fill="#fff"/>
<rect x="582" y="105" width="1" height="33" fill="#000"/>
<rect x="580" y="111" width="5" height="25" fill="#000"/>
<rect x="581" y="112" width="3" height="23" fill="#fff"/>
<rect x="590" y="95" width="1" height="49" fill="#000"/>
<rect x="588" y="98" width="5" height="14" fill="#000"/>
<rect x="589" y="99" width="3" height="12" fill="#fff"/>
<rect x="598" y="81" width="1" height="50" fill="#000"/>
<rect x="596" y="98" width="5" height="15" fill="#000"/>
<rect x="606" y="104" width="1" height="23" fill="#000"/>
<rect x="604" y="112" width="5" height="13" fill="#000"/>
<rect x="614" y="119" width="1" height="30" fill="#000"/>
<rect x="612" y="122" width="5" height="21" fill="#000"/>
<rect x="622" y="124" width="1" height="28" fill="#000"/>
<rect x="620" y="139" width="5" height="3" fill="#000"/>
<rect x="621" y="140" width="3" height="1" fill="#fff"/>
<rect x="630" y="127" width="1" height="24" fill="#000"/>
<rect x="628" y="139" width="5" height="2" fill="#000"/>
<rect x="638" y="129" width="1" height="78" fill="#000"/>
<rect x="636" y="140" width="5" height="64" fill="#000"/>
<rect x="646" y="175" width="1" height="40" fill="#000"/>
<rect x="644" y="200" width="5" height="4" fill="#000"/>
<rect x="645" y="201" width="3" height="2" fill="#fff"/>
<rect x="654" y="210" width="1" height="16" fill="#000"/>
<rect x="652" y="214" width="5" height="9" fill="#000"/>
<rect x="662" y="159" width="1" height="72" fill="#000"/>
<rect x="660" y="166" width="5" height="58" fill="#000"/>
<rect x="661" y="167" width="3" height="56" fill="#fff"/>
<rect x="670" y="165" width="1" height="33" fill="#000"/>
<rect x="668" y="166" width="5" height="23" fill="#000"/>
<rect x="678" y="187" width="1" height="26" fill="#000"/>
<rect x="676" y="187" width="5" height="18" fill="#000"/>
<rect x="686" y="198" width="1" height="46" fill="#000"/>
<rect x="684" y="204" width="5" height="38" fill="#000"/>
<rect x="694" y="236" width="1" height="42" fill="#000"/>
<rect x="692" y="240" width="5" height="30" fill="#000"/>
<rect x="702" y="259" width="1" height="18" fill="#000"/>
<rect x="700" y="266" width="5" height="4" fill="#000"/>
<rect x="701" y="267" width="3" height="2" fill="#fff"/>
<rect x="710" y="266" width="1" height="27" fill="#000"/>
<rect x="708" y="266" width="5" height="12" fill="#000"/>
<rect x="718" y="274" width="1" height="24" fill="#000"/>
<rect x="716" y="277" width="5" height="13" fill="#000"/>
<rect x="726" y="287" width="1" height="16" fill="#000"/>
<rect x="724" y="287" width="5" height="2" fill="#000"/>
<rect x="734" y="262" width="1" height="30" fill="#000"/>
<rect x="732" y="275" width="5" height="13" fill="#000"/>
<rect x="733" y="276" width="3" height="11" fill="#fff"/>
<rect x="742" y="259" width="1" height="36" fill="#000"/>
<rect x="740" y="275" width="5" height="20" fill="#000"/>
<rect x="750" y="288" width="1" height="17" fill="#000"/>
<rect x="748" y="293" width="5" height="10" fill="#000"/>
<rect x="758" y="273" width="1" height="38" fill="#000"/>
<rect x="756" y="279" width="5" height="24" fill="#000"/>
<rect x="757" y="280" width="3" height="22" fill="#fff"/>
<rect x="766" y="273" width="1" height="28" fill="#000"/>
<rect x="764" y="274" width="5" height="4" fill="#000"/>
<rect x="765" y="275" width="3" height="2" fill="#fff"/>
<rect x="774" y="264" width="1" height="30" fill="#000"/>
<rect x="772" y="274" width="5" height="9" fill="#000"/>
<rect x="782" y="260" width="1" height="46" fill="#000"/>
<rect x="780" y="274" width="5" height="9" fill="#000"/>
<rect x="781" y="275" width="3" height="7" fill="#fff"/>
<rect x="790" y="236" width="1" height="52" fill="#000"/>
<rect x="788" y="238" width="5" height="38" fill="#000"/>
<rect x="789" y="239" width="3" height="36" fill="#fff"/>
<rect x="798" y="228" width="1" height="26" fill="#000"/>
<rect x="796" y="234" width="5" height="7" fill="#000"/>
<rect x="797" y="235" width="3" height="5" fill="#fff"/>
<rect x="806" y="236" width="1" height="56" fill="#000"/>
<rect x="804" y="237" width="5" height="52" fill="#000"/>
<rect x="814" y="258" width="1" height="36" fill="#000"/>
<rect x="812" y="279" width="5" height="9" fill="#000"/>
<rect x="813" y="280" width="3" height="7" fill="#fff"/>
<rect x="822" y="267" width="1" height="41" fill="#000"/>
<rect x="820" y="278" width="5" height="20" fill="#000"/>
<rect x="830" y="283" width="1" height="38" fill="#000"/>
<rect x="828" y="283" width="5" height="14" fill="#000"/>
<rect x="829" y="284" width="3" height="12" fill="#fff"/>
<rect x="838" y="283" width="1" height="34" fill="#000"/>
<rect x="836" y="284" width="5" height="16" fill="#000"/>
<rect x="846" y="287" width="1" height="13" fill="#000"/>
<rect x="844" y="292" width="5" height="7" fill="#000"/>
<rect x="845" y="293" width="3" height="5" fill="#fff"/>
<rect x="854" y="278" width="1" height="25" fill="#000"/>
<rect x="852" y="281" width="5" height="11" fill="#000"/>
<rect x="853" y="282" width="3" height="9" fill="#fff"/>
<rect x="862" y="280" width="1" height="38" fill="#000"/>
<rect x="860" y="281" width="5" height="30" fill="#000"/>
<rect x="870" y="304" width="1" height="22" fill="#000"/>
<rect x="868" y="310" width="5" height="2" fill="#000"/>
<rect x="878" y="270" width="1" height="52" fill="#000"/>
<rect x="876" y="276" width="5" height="36" fill="#000"/>
<rect x="877" y="277" width="3" height="34" fill="#fff"/>
<rect x="886" y="251" width="1" height="31" fill="#000"/>
<rect x="884" y="266" width="5" height="11" fill="#000"/>
<rect x="885" y="267" width="3" height="9" fill="#fff"/>
<rect x="894" y="287" width="1" height="12" fill="#000"/>
<rect x="892" y="287" width="5" height="9" fill="#000"/>
<rect x="902" y="291" width="1" height="24" fill="#000"/>
<rect x="900" y="295" width="5" height="13" fill="#000"/>
<rect x="910" y="302" width="1" height="20" fill="#000"/>
<rect x="908" y="308" width="5" height="10" fill="#000"/>
<rect x="918" y="302" width="1" height="28" fill="#000"/>
<rect x="916" y="316" width="5" height="4" fill="#000"/>
<rect x="926" y="304" width="1" height="30" fill="#000"/>
<rect x="924" y="319" width="5" height="2" fill="#000"/>
<rect x="934" y="300" width="1" height="30" fill="#000"/>
<rect x="932" y="319" width="5" height="8" fill="#000"/>
<rect x="942" y="312" width="1" height="25" fill="#000"/>
<rect x="940" y="316" width="5" height="12" fill="#000"/>
<rect x="941" y="317" width="3" height="10" fill="#fff"/>
<rect x="950" y="300" width="1" height="18" fill="#000"/>
<rect x="948" y="305" width="5" height="12" fill="#000"/>
<rect x="949" y="306" width="3" height="10" fill="#fff"/>
<rect x="958" y="298" width="1" height="25" fill="#000"/>
<rect x="956" y="304" width="5" height="18" fill="#000"/>
<rect x="966" y="298" width="1" height="26" fill="#000"/>
<rect x="964" y="313" width="5" height="9" fill="#000"/>
<rect x="965" y="314" width="3" height="7" fill="#fff"/>
<rect x="974" y="247" width="1" height="76" fill="#000"/>
<rect x="972" y="273" width="5" height="40" fill="#000"/>
<rect x="973" y="274" width="3" height="38" fill="#fff"/>
<rect x="982" y="267" width="1" height="39" fill="#000"/>
<rect x="980" y="273" width="5" height="26" fill="#000"/>
<rect x="990" y="286" width="1" height="15" fill="#000"/>
<rect x="988" y="287" width="5" height="13" fill="#000"/>
<rect x="989" y="288" width="3" height="11" fill="#fff"/>
<rect x="998" y="278" width="1" height="22" fill="#000"/>
<rect x="996" y="287" width="5" height="11" fill="#000"/>
<rect x="1006" y="273" width="1" height="26" fill="#000"/>
<rect x="1004" y="280" width="5" height="18" fill="#000"/>
<rect x="1005" y="281" width="3" height="16" fill="#fff"/>
<rect x="1014" y="244" width="1" height="39" fill="#000"/>
<rect x="1012" y="251" width="5" height="31" fill="#000"/>
<rect x="1013" y="252" width="3" height="29" fill="#fff"/>
<rect x="1022" y="237" width="1" height="62" fill="#000"/>
<rect x="1020" y="251" width="5" height="25" fill="#000"/>
<rect x="1030" y="265" width="1" height="41" fill="#000"/>
<rect x="1028" y="275" width="5" height="21" fill="#000"/>
<rect x="1038" y="289" width="1" height="12" fill="#000"/>
<rect x="1036" y="290" width="5" height="6" fill="#000"/>
<rect x="1037" y="291" width="3" height="4" fill="#fff"/>
<rect x="1046" y="276" width="1" height="31" fill="#000"/>
<rect x="1044" y="289" width="5" height="4" fill="#000"/>
<rect x="1045" y="290" width="3" height="2" fill="#fff"/>
<rect x="1054" y="267" width="1" height="33" fill="#000"/>
<rect x="1052" y="288" width="5" height="11" fill="#000"/>
<rect x="1062" y="280" width="1" height="20" fill="#000"/>
<rect x="1060" y="293" width="5" height="6" fill="#000"/>
<rect x="1061" y="294" width="3" height="4" fill="#fff"/>
<rect x="1070" y="279" width="1" height="48" fill="#000"/>
<rect x="1068" y="293" width="5" height="24" fill="#000"/>
<rect x="1078" y="314" width="1" height="18" fill="#000"/>
<rect x="1076" y="314" width="5" height="12" fill="#000"/>
<rect x="1086" y="320" width="1" height="14" fill="#000"/>
<rect x="1084" y="324" width="5" height="5" fill="#000"/>
<rect x="1094" y="320" width="1" height="31" fill="#000"/>
<rect x="1092" y="327" width="5" height="18" fill="#000"/>
<rect x="1102" y="337" width="1" height="17" fill="#000"/>
<rect x="1100" y="343" width="5" height="11" fill="#000"/>
<rect x="1110" y="345" width="1" height="19" fill="#000"/>
<rect x="1108" y="352" width="5" height="2" fill="#000"/>
<rect x="1118" y="335" width="1" height="32" fill="#000"/>
<rect x="1116" y="352" width="5" height="5" fill="#000"/>
<rect x="1126" y="348" width="1" height="22" fill="#000"/>
<rect x="1124" y="355" width="5" height="15" fill="#000"/>
<rect x="1134" y="366" width="1" height="8" fill="#000"/>
<rect x="1132" y="367" width="5" height="2" fill="#000"/>
<rect x="1142" y="366" width="1" height="23" fill="#000"/>
<rect x="1140" y="366" width="5" height="19" fill="#000"/>
<rect x="1150" y="380" width="1" height="17" fill="#000"/>
<rect x="1148" y="383" width="5" height="8" fill="#000"/>
<rect x="1158" y="388" width="1" height="18" fill="#000"/>
<rect x="1156" y="390" width="5" height="14" fill="#000"/>
<rect x="1166" y="399" width="1" height="31" fill="#000"/>
<rect x="1164" y="402" width="5" height="22" fill="#000"/>
<rect x="1174" y="418" width="1" height="12" fill="#000"/>
<rect x="1172" y="422" width="5" height="2" fill="#000"/>
<rect x="1182" y="420" width="1" height="8" fill="#000"/>
<rect x="1180" y="422" width="5" height="2" fill="#000"/>
<rect x="1190" y="400" width="1" height="29" fill="#000"/>
<rect x="1188" y="410" width="5" height="15" fill="#000"/>
<rect x="1189" y="411" width="3" height="13" fill="#fff"/>
<rect x="1198" y="404" width="1" height="23" fill="#000"/>
<rect x="1196" y="404" width="5" height="6" fill="#000"/>
<rect x="1197" y="405" width="3" height="4" fill="#fff"/>
<rect x="1206" y="402" width="1" height="18" fill="#000"/>
<rect x="1204" y="404" width="5" height="16" fill="#000"/>
<rect x="1214" y="399" width="1" height="48" fill="#000"/>
<rect x="1212" y="418" width="5" height="19" fill="#000"/>
<rect x="1222" y="427" width="1" height="20" fill="#000"/>
<rect x="1220" y="430" width="5" height="8" fill="#000"/>
<rect x="1221" y="431" width="3" height="6" fill="#fff"/>
<rect x="1230" y="425" width="1" height="17" fill="#000"/>
<rect x="1228" y="430" width="5" height="11" fill="#000"/>
<rect x="1238" y="426" width="1" height="16" fill="#000"/>
<rect x="1236" y="429" width="5" height="12" fill="#000"/>
<rect x="1237" y="430" width="3" height="10" fill="#fff"/>
<rect x="1246" y="410" width="1" height="22" fill="#000"/>
<rect x="1244" y="425" width="5" height="6" fill="#000"/>
<rect x="1245" y="426" width="3" height="4" fill="#fff"/>
<rect x="1254" y="421" width="1" height="18" fill="#000"/>
<rect x="1252" y="425" width="5" height="12" fill="#000"/>
<rect x="1262" y="408" width="1" height="58" fill="#000"/>
<rect x="1260" y="412" width="5" height="25" fill="#000"/>
<rect x="1261" y="413" width="3" height="23" fill="#fff"/>
<rect x="1270" y="407" width="1" height="45" fill="#000"/>
<rect x="1268" y="411" width="5" height="14" fill="#000"/>
<rect x="1278" y="414" width="1" height="14" fill="#000"/>
<rect x="1276" y="414" width="5" height="10" fill="#000"/>
<rect x="1277" y="415" width="3" height="8" fill="#fff"/>
<rect x="1286" y="407" width="1" height="16" fill="#000"/>
<rect x="1284" y="413" width="5" height="3" fill="#000"/>
<rect x="1285" y="414" width="3" height="1" fill="#fff"/>
<rect x="1294" y="399" width="1" height="27" fill="#000"/>
<rect x="1292" y="413" width="5" height="9" fill="#000"/>
<rect x="1302" y="417" width="1" height="22" fill="#000"/>
<rect x="1300" y="420" width="5" height="12" fill="#000"/>
<rect x="1310" y="426" width="1" height="61" fill="#000"/>
<rect x="1308" y="430" width="5" height="52" fill="#000"/>
<rect x="1318" y="479" width="1" height="21" fill="#000"/>
<rect x="1316" y="480" width="5" height="10" fill="#000"/>
<rect x="1326" y="486" width="1" height="12" fill="#000"/>
<rect x="1324" y="488" width="5" height="6" fill="#000"/>
<rect x="1334" y="486" width="1" height="19" fill="#000"/>
<rect x="1332" y="491" width="5" height="2" fill="#000"/>
<rect x="1342" y="490" width="1" height="11" fill="#000"/>
<rect x="1340" y="492" width="5" height="6" fill="#000"/>
<rect x="1350" y="485" width="1" height="21" fill="#000"/>
<rect x="1348" y="486" width="5" height="11" fill="#000"/>
<rect x="1349" y="487" width="3" height="9" fill="#fff"/>
<rect x="1358" y="479" width="1" height="31" fill="#000"/>
<rect x="1356" y="483" width="5" height="4" fill="#000"/>
<rect x="1357" y="484" width="3" height="2" fill="#fff"/>
<rect x="1366" y="473" width="1" height="20" fill="#000"/>
<rect x="1364" y="482" width="5" height="2" fill="#000"/>
<rect x="1374" y="478" width="1" height="10" fill="#000"/>
<rect x="1372" y="480" width="5" height="2" fill="#000"/>
<rect x="1382" y="468" width="1" height="21" fill="#000"/>
<rect x="1380" y="479" width="5" height="5" fill="#000"/>
<rect x="1390" y="480" width="1" height="21" fill="#000"/>
<rect x="1388" y="482" width="5" height="18" fill="#000"/>
<rect x="1398" y="495" width="1" height="14" fill="#000"/>
<rect x="1396" y="498" width="5" height="11" fill="#000"/>
<rect x="1406" y="487" width="1" height="37" fill="#000"/>
<rect x="1404" y="494" width="5" height="14" fill="#000"/>
<rect x="1405" y="495" width="3" height="12" fill="#fff"/>
<rect x="1414" y="481" width="1" height="26" fill="#000"/>
<rect x="1412" y="489" width="5" height="6" fill="#000"/>
<rect x="1413" y="490" width="3" height="4" fill="#fff"/>
<rect x="1422" y="481" width="1" height="12" fill="#000"/>
<rect x="1420" y="485" width="5" height="5" fill="#000"/>
<rect x="1421" y="486" width="3" height="3" fill="#fff"/>
<rect x="1430" y="467" width="1" height="19" fill="#000"/>
<rect x="1428" y="475" width="5" height="11" fill="#000"/>
<rect x="1429" y="476" width="3" height="9" fill="#fff"/>
<rect x="1438" y="454" width="1" height="43" fill="#000"/>
<rect x="1436" y="468" width="5" height="7" fill="#000"/>
<rect x="1437" y="469" width="3" height="5" fill="#fff"/>
<rect x="1446" y="466" width="1" height="23" fill="#000"/>
<rect x="1444" y="467" width="5" height="11" fill="#000"/>
<rect x="1454" y="459" width="1" height="60" fill="#000"/>
<rect x="1452" y="477" width="5" height="35" fill="#000"/>
<rect x="1462" y="507" width="1" height="25" fill="#000"/>
<rect x="1460" y="510" width="5" height="20" fill="#000"/>
<rect x="1470" y="524" width="1" height="6" fill="#000"/>
<rect x="1468" y="527" width="5" height="2" fill="#000"/>
<rect x="1644" y="465" width="5" height="5" fill="#ff0000"/>
<rect x="1645" y="466" width="3" height="3" fill="#fff"/>
<rect x="1644" y="490" width="5" height="5" fill="#ff0000"/>
<rect x="1645" y="491" width="3" height="3" fill="#fff"/>
<rect x="1644" y="513" width="5" height="5" fill="#ffa500"/>
<rect x="1645" y="514" width="3" height="3" fill="#fff"/>
<rect x="1644" y="550" width="5" height="5" fill="#0000ff"/>
<rect x="1645" y="551" width="3" height="3" fill="#fff"/>
<rect x="1644" y="571" width="5" height="5" fill="#0000ff"/>
<rect x="1645" y="572" width="3" height="3" fill="#fff"/>
</g>
</g>
<line x1="1263" y1="428.5" x2="1481.97" y2="526.99" stroke="#ff0000" stroke-width="3.6"/>
<polygon points="1492,531.5 1478.8,531.59 1483.31,521.56" fill="#ff0000"/>
<rect x="727.5" y="219.5" width="61" height="18" fill="#fff" stroke="#ff0000" stroke-width="1" shape-rendering="crispEdges"/>
<text x="730.1" y="235" font-size="17" fill="#ff0000" text-anchor="start" font-weight="normal" textLength="57" lengthAdjust="spacingAndGlyphs">1.28950</text>
<rect x="789" y="228" width="9" height="1" fill="#ff0000"/>
<rect x="1295.5" y="506.5" width="61" height="18" fill="#fff" stroke="#ff0000" stroke-width="1" shape-rendering="crispEdges"/>
<text x="1298.2" y="522" font-size="17" fill="#ff0000" text-anchor="start" font-weight="normal" textLength="56.8" lengthAdjust="spacingAndGlyphs">1.25425</text>
<rect x="1357" y="513" width="3" height="4" fill="#ff0000"/>
<rect x="1358" y="514" width="1" height="2" fill="#fff"/>
<rect x="1360" y="515" width="8" height="1" fill="#ff0000"/>
<rect x="1391.5" y="523.5" width="61" height="18" fill="#fff" stroke="#ff0000" stroke-width="1" shape-rendering="crispEdges"/>
<text x="1393.8" y="539.2" font-size="17" fill="#ff0000" text-anchor="start" font-weight="normal" textLength="57" lengthAdjust="spacingAndGlyphs">1.25220</text>
<rect x="1453" y="530" width="3" height="4" fill="#ff0000"/>
<rect x="1454" y="531" width="1" height="2" fill="#fff"/>
<rect x="1456" y="532" width="7" height="1" fill="#ff0000"/>
<rect x="1462" y="530" width="1" height="3" fill="#ff0000"/>
<g shape-rendering="crispEdges">
<rect x="0" y="24" width="1650" height="1" fill="#000"/>
<rect x="0" y="577" width="1650" height="1" fill="#000"/>
<rect x="0" y="579" width="1650" height="1" fill="#000"/>
<rect x="0" y="749" width="1650" height="1" fill="#000"/>
<rect x="0" y="751" width="1650" height="1" fill="#000"/>
<rect x="0" y="925" width="1650" height="1" fill="#000"/>
<rect x="1649" y="24" width="1" height="554" fill="#000"/>
<rect x="1649" y="579" width="1" height="171" fill="#000"/>
<rect x="1649" y="751" width="1" height="175" fill="#000"/>
</g>
<polygon points="1477,25 1486,25 1481.5,29.5" fill="#c0c0c0" shape-rendering="crispEdges"/>
<text x="6" y="36" font-size="10" fill="#000" text-anchor="start" font-weight="normal" textLength="205" lengthAdjust="spacingAndGlyphs" stroke="#000" stroke-width="0.25">USDCAD-,H4&#160;&#160;1.25260 1.25323 1.25256 1.25279</text>
<defs><linearGradient id="gb" x1="0" y1="0" x2="0" y2="1"><stop offset="0" stop-color="#ff5d5d"/><stop offset="1" stop-color="#e01f1f"/></linearGradient><linearGradient id="gp" x1="0" y1="0" x2="0" y2="1"><stop offset="0" stop-color="#de2c2c"/><stop offset="1" stop-color="#b70000"/></linearGradient><linearGradient id="gbtn" x1="0" y1="0" x2="0" y2="1"><stop offset="0" stop-color="#f3f3f3"/><stop offset="0.45" stop-color="#ececec"/><stop offset="0.5" stop-color="#dcdcdc"/><stop offset="1" stop-color="#d0d0d0"/></linearGradient></defs>
<g shape-rendering="crispEdges">
<rect x="0" y="44" width="45" height="24" fill="#b00000"/>
<rect x="0" y="45" width="44" height="22" fill="url(#gb)"/>
<rect x="0" y="67" width="41" height="1" fill="#9c0000"/>
<rect x="160" y="44" width="53" height="24" fill="#b00000"/>
<rect x="161" y="45" width="51" height="22" fill="url(#gb)"/>
<rect x="164" y="67" width="45" height="1" fill="#9c0000"/>
<rect x="0" y="68" width="102" height="33" fill="#b00000"/>
<rect x="0" y="69" width="101" height="31" fill="url(#gp)"/>
<rect x="0" y="68" width="41" height="1" fill="#ee6060"/>
<rect x="104" y="68" width="109" height="33" fill="#b00000"/>
<rect x="105" y="69" width="107" height="31" fill="url(#gp)"/>
<rect x="164" y="68" width="45" height="1" fill="#ee6060"/>
<rect x="47" y="44" width="111" height="22" fill="#a9aeb6"/>
<rect x="48" y="45" width="109" height="20" fill="#ffffff"/>
<rect x="49" y="46" width="18" height="18" fill="url(#gbtn)"/>
<rect x="68" y="45" width="1" height="20" fill="#a9aeb6"/>
<rect x="138" y="46" width="18" height="18" fill="url(#gbtn)"/>
<rect x="136" y="45" width="1" height="20" fill="#a9aeb6"/>
</g>
<polygon points="55,53 60,53 57.5,56" fill="#4656c8"/><polygon points="144,56 149,56 146.5,53" fill="#4656c8"/>
<text x="132.8" y="59.2" font-size="12" fill="#000" text-anchor="end" font-weight="normal" textLength="19" lengthAdjust="spacingAndGlyphs">1.00</text>
<text x="5.2" y="60" font-size="12" fill="#fff" text-anchor="start" font-weight="normal" textLength="25.5" lengthAdjust="spacingAndGlyphs">SELL</text>
<text x="173.2" y="60" font-size="12" fill="#fff" text-anchor="start" font-weight="normal" textLength="24" lengthAdjust="spacingAndGlyphs">BUY</text>
<text x="13.6" y="95.8" font-size="11" fill="#fff" text-anchor="start" font-weight="bold" textLength="22.7" lengthAdjust="spacingAndGlyphs" stroke="#fff" stroke-width="0.25">1.25</text>
<text x="41.3" y="95.8" font-size="33" fill="#fff" text-anchor="start" font-weight="normal" textLength="33.3" lengthAdjust="spacingAndGlyphs">27</text>
<text x="80.2" y="79.8" font-size="10" fill="#fff" text-anchor="start" font-weight="bold" textLength="6.5" lengthAdjust="spacingAndGlyphs" stroke="#fff" stroke-width="0.25">9</text>
<text x="123.2" y="95.8" font-size="11" fill="#fff" text-anchor="start" font-weight="bold" textLength="23.4" lengthAdjust="spacingAndGlyphs" stroke="#fff" stroke-width="0.25">1.25</text>
<text x="152.2" y="95.8" font-size="33" fill="#fff" text-anchor="start" font-weight="normal" textLength="33.3" lengthAdjust="spacingAndGlyphs">32</text>
<text x="191.3" y="79.8" font-size="10" fill="#fff" text-anchor="start" font-weight="bold" textLength="6.5" lengthAdjust="spacingAndGlyphs" stroke="#fff" stroke-width="0.25">8</text>
<rect x="1650" y="46" width="2" height="1" fill="#000"/>
<text x="1655.5" y="50" font-size="10" fill="#000" text-anchor="start" font-weight="normal" textLength="32" lengthAdjust="spacingAndGlyphs" stroke="#000" stroke-width="0.25">1.31190</text>
<rect x="1650" y="79" width="2" height="1" fill="#000"/>
<text x="1655.5" y="83" font-size="10" fill="#000" text-anchor="start" font-weight="normal" textLength="32" lengthAdjust="spacingAndGlyphs" stroke="#000" stroke-width="0.25">1.30780</text>
<rect x="1650" y="112" width="2" height="1" fill="#000"/>
<text x="1655.5" y="116" font-size="10" fill="#000" text-anchor="start" font-weight="normal" textLength="32" lengthAdjust="spacingAndGlyphs" stroke="#000" stroke-width="0.25">1.30380</text>
<rect x="1650" y="145" width="2" height="1" fill="#000"/>
<text x="1655.5" y="149" font-size="10" fill="#000" text-anchor="start" font-weight="normal" textLength="32" lengthAdjust="spacingAndGlyphs" stroke="#000" stroke-width="0.25">1.29970</text>
<rect x="1650" y="178" width="2" height="1" fill="#000"/>
<text x="1655.5" y="182" font-size="10" fill="#000" text-anchor="start" font-weight="normal" textLength="32" lengthAdjust="spacingAndGlyphs" stroke="#000" stroke-width="0.25">1.29570</text>
<rect x="1650" y="211" width="2" height="1" fill="#000"/>
<text x="1655.5" y="215" font-size="10" fill="#000" text-anchor="start" font-weight="normal" textLength="32" lengthAdjust="spacingAndGlyphs" stroke="#000" stroke-width="0.25">1.29160</text>
<rect x="1650" y="244" width="2" height="1" fill="#000"/>
<text x="1655.5" y="248" font-size="10" fill="#000" text-anchor="start" font-weight="normal" textLength="32" lengthAdjust="spacingAndGlyphs" stroke="#000" stroke-width="0.25">1.28750</text>
<rect x="1650" y="277" width="2" height="1" fill="#000"/>
<text x="1655.5" y="281" font-size="10" fill="#000" text-anchor="start" font-weight="normal" textLength="32" lengthAdjust="spacingAndGlyphs" stroke="#000" stroke-width="0.25">1.28350</text>
<rect x="1650" y="310" width="2" height="1" fill="#000"/>
<text x="1655.5" y="314" font-size="10" fill="#000" text-anchor="start" font-weight="normal" textLength="32" lengthAdjust="spacingAndGlyphs" stroke="#000" stroke-width="0.25">1.27940</text>
<rect x="1650" y="343" width="2" height="1" fill="#000"/>
<text x="1655.5" y="347" font-size="10" fill="#000" text-anchor="start" font-weight="normal" textLength="32" lengthAdjust="spacingAndGlyphs" stroke="#000" stroke-width="0.25">1.27540</text>
<rect x="1650" y="376" width="2" height="1" fill="#000"/>
<text x="1655.5" y="380" font-size="10" fill="#000" text-anchor="start" font-weight="normal" textLength="32" lengthAdjust="spacingAndGlyphs" stroke="#000" stroke-width="0.25">1.27130</text>
<rect x="1650" y="409" width="2" height="1" fill="#000"/>
<text x="1655.5" y="413" font-size="10" fill="#000" text-anchor="start" font-weight="normal" textLength="32" lengthAdjust="spacingAndGlyphs" stroke="#000" stroke-width="0.25">1.26730</text>
<rect x="1650" y="442" width="2" height="1" fill="#000"/>
<text x="1655.5" y="446" font-size="10" fill="#000" text-anchor="start" font-weight="normal" textLength="32" lengthAdjust="spacingAndGlyphs" stroke="#000" stroke-width="0.25">1.26320</text>
<rect x="1650" y="475" width="2" height="1" fill="#000"/>
<text x="1655.5" y="479" font-size="10" fill="#000" text-anchor="start" font-weight="normal" textLength="32" lengthAdjust="spacingAndGlyphs" stroke="#000" stroke-width="0.25">1.25920</text>
<rect x="1650" y="508" width="2" height="1" fill="#000"/>
<text x="1655.5" y="512" font-size="10" fill="#000" text-anchor="start" font-weight="normal" textLength="32" lengthAdjust="spacingAndGlyphs" stroke="#000" stroke-width="0.25">1.25510</text>
<rect x="1650" y="541" width="2" height="1" fill="#000"/>
<text x="1655.5" y="545" font-size="10" fill="#000" text-anchor="start" font-weight="normal" textLength="32" lengthAdjust="spacingAndGlyphs" stroke="#000" stroke-width="0.25">1.25110</text>
<rect x="1651" y="461" width="41" height="11" fill="#ff0000"/>
<text x="1655.5" y="470.5" font-size="10" fill="#fff" text-anchor="start" font-weight="normal" textLength="32" lengthAdjust="spacingAndGlyphs" stroke="#fff" stroke-width="0.25">1.26018</text>
<rect x="1651" y="486" width="41" height="11" fill="#ff0000"/>
<text x="1655.5" y="495.5" font-size="10" fill="#fff" text-anchor="start" font-weight="normal" textLength="32" lengthAdjust="spacingAndGlyphs" stroke="#fff" stroke-width="0.25">1.25705</text>
<rect x="1651" y="509" width="41" height="11" fill="#ffa500"/>
<text x="1655.5" y="518.5" font-size="10" fill="#fff" text-anchor="start" font-weight="normal" textLength="32" lengthAdjust="spacingAndGlyphs" stroke="#fff" stroke-width="0.25">1.25425</text>
<rect x="1651" y="521" width="41" height="11" fill="#000000"/>
<text x="1655.5" y="530.5" font-size="10" fill="#fff" text-anchor="start" font-weight="normal" textLength="32" lengthAdjust="spacingAndGlyphs" stroke="#fff" stroke-width="0.25">1.25279</text>
<rect x="1651" y="546" width="41" height="11" fill="#0000ff"/>
<text x="1655.5" y="555.5" font-size="10" fill="#fff" text-anchor="start" font-weight="normal" textLength="32" lengthAdjust="spacingAndGlyphs" stroke="#fff" stroke-width="0.25">1.24977</text>
<rect x="1651" y="567" width="41" height="11" fill="#0000ff"/>
<text x="1655.5" y="576.5" font-size="10" fill="#fff" text-anchor="start" font-weight="normal" textLength="32" lengthAdjust="spacingAndGlyphs" stroke="#fff" stroke-width="0.25">1.24719</text>
<g clip-path="url(#cm)" shape-rendering="crispEdges">
<rect x="6" y="606" width="1" height="70" fill="#c0c0c0"/>
<rect x="14" y="601" width="1" height="75" fill="#c0c0c0"/>
<rect x="22" y="595" width="1" height="81" fill="#c0c0c0"/>
<rect x="30" y="593" width="1" height="83" fill="#c0c0c0"/>
<rect x="38" y="593" width="1" height="83" fill="#c0c0c0"/>
<rect x="46" y="593" width="1" height="83" fill="#c0c0c0"/>
<rect x="54" y="592" width="1" height="84" fill="#c0c0c0"/>
<rect x="62" y="592" width="1" height="84" fill="#c0c0c0"/>
<rect x="70" y="592" width="1" height="84" fill="#c0c0c0"/>
<rect x="78" y="594" width="1" height="82" fill="#c0c0c0"/>
<rect x="86" y="594" width="1" height="82" fill="#c0c0c0"/>
<rect x="94" y="600" width="1" height="76" fill="#c0c0c0"/>
<rect x="102" y="596" width="1" height="80" fill="#c0c0c0"/>
<rect x="110" y="600" width="1" height="76" fill="#c0c0c0"/>
<rect x="118" y="608" width="1" height="68" fill="#c0c0c0"/>
<rect x="126" y="614" width="1" height="62" fill="#c0c0c0"/>
<rect x="134" y="623" width="1" height="53" fill="#c0c0c0"/>
<rect x="142" y="637" width="1" height="39" fill="#c0c0c0"/>
<rect x="150" y="646" width="1" height="30" fill="#c0c0c0"/>
<rect x="158" y="646" width="1" height="30" fill="#c0c0c0"/>
<rect x="166" y="643" width="1" height="33" fill="#c0c0c0"/>
<rect x="174" y="638" width="1" height="38" fill="#c0c0c0"/>
<rect x="182" y="633" width="1" height="43" fill="#c0c0c0"/>
<rect x="190" y="628" width="1" height="48" fill="#c0c0c0"/>
<rect x="198" y="625" width="1" height="51" fill="#c0c0c0"/>
<rect x="206" y="622" width="1" height="54" fill="#c0c0c0"/>
<rect x="214" y="622" width="1" height="54" fill="#c0c0c0"/>
<rect x="222" y="623" width="1" height="53" fill="#c0c0c0"/>
<rect x="230" y="626" width="1" height="50" fill="#c0c0c0"/>
<rect x="238" y="629" width="1" height="47" fill="#c0c0c0"/>
<rect x="246" y="632" width="1" height="44" fill="#c0c0c0"/>
<rect x="254" y="637" width="1" height="39" fill="#c0c0c0"/>
<rect x="262" y="642" width="1" height="34" fill="#c0c0c0"/>
<rect x="270" y="646" width="1" height="30" fill="#c0c0c0"/>
<rect x="278" y="650" width="1" height="26" fill="#c0c0c0"/>
<rect x="286" y="655" width="1" height="21" fill="#c0c0c0"/>
<rect x="294" y="660" width="1" height="16" fill="#c0c0c0"/>
<rect x="302" y="663" width="1" height="13" fill="#c0c0c0"/>
<rect x="310" y="675" width="1" height="1" fill="#c0c0c0"/>
<rect x="318" y="675" width="1" height="12" fill="#c0c0c0"/>
<rect x="326" y="675" width="1" height="22" fill="#c0c0c0"/>
<rect x="334" y="675" width="1" height="26" fill="#c0c0c0"/>
<rect x="342" y="675" width="1" height="26" fill="#c0c0c0"/>
<rect x="350" y="675" width="1" height="15" fill="#c0c0c0"/>
<rect x="358" y="675" width="1" height="10" fill="#c0c0c0"/>
<rect x="366" y="675" width="1" height="5" fill="#c0c0c0"/>
<rect x="374" y="675" width="1" height="1" fill="#c0c0c0"/>
<rect x="382" y="670" width="1" height="6" fill="#c0c0c0"/>
<rect x="390" y="668" width="1" height="8" fill="#c0c0c0"/>
<rect x="398" y="659" width="1" height="17" fill="#c0c0c0"/>
<rect x="406" y="651" width="1" height="25" fill="#c0c0c0"/>
<rect x="414" y="643" width="1" height="33" fill="#c0c0c0"/>
<rect x="422" y="634" width="1" height="42" fill="#c0c0c0"/>
<rect x="430" y="629" width="1" height="47" fill="#c0c0c0"/>
<rect x="438" y="625" width="1" height="51" fill="#c0c0c0"/>
<rect x="446" y="619" width="1" height="57" fill="#c0c0c0"/>
<rect x="454" y="609" width="1" height="67" fill="#c0c0c0"/>
<rect x="462" y="601" width="1" height="75" fill="#c0c0c0"/>
<rect x="470" y="599" width="1" height="77" fill="#c0c0c0"/>
<rect x="478" y="595" width="1" height="81" fill="#c0c0c0"/>
<rect x="486" y="595" width="1" height="81" fill="#c0c0c0"/>
<rect x="494" y="592" width="1" height="84" fill="#c0c0c0"/>
<rect x="502" y="591" width="1" height="85" fill="#c0c0c0"/>
<rect x="510" y="591" width="1" height="85" fill="#c0c0c0"/>
<rect x="518" y="595" width="1" height="81" fill="#c0c0c0"/>
<rect x="526" y="600" width="1" height="76" fill="#c0c0c0"/>
<rect x="534" y="609" width="1" height="67" fill="#c0c0c0"/>
<rect x="542" y="619" width="1" height="57" fill="#c0c0c0"/>
<rect x="550" y="621" width="1" height="55" fill="#c0c0c0"/>
<rect x="558" y="623" width="1" height="53" fill="#c0c0c0"/>
<rect x="566" y="626" width="1" height="50" fill="#c0c0c0"/>
<rect x="574" y="626" width="1" height="50" fill="#c0c0c0"/>
<rect x="582" y="623" width="1" height="53" fill="#c0c0c0"/>
<rect x="590" y="620" width="1" height="56" fill="#c0c0c0"/>
<rect x="598" y="621" width="1" height="55" fill="#c0c0c0"/>
<rect x="606" y="622" width="1" height="54" fill="#c0c0c0"/>
<rect x="614" y="627" width="1" height="49" fill="#c0c0c0"/>
<rect x="622" y="632" width="1" height="44" fill="#c0c0c0"/>
<rect x="630" y="636" width="1" height="40" fill="#c0c0c0"/>
<rect x="638" y="649" width="1" height="27" fill="#c0c0c0"/>
<rect x="646" y="660" width="1" height="16" fill="#c0c0c0"/>
<rect x="654" y="672" width="1" height="4" fill="#c0c0c0"/>
<rect x="662" y="672" width="1" height="4" fill="#c0c0c0"/>
<rect x="670" y="675" width="1" height="1" fill="#c0c0c0"/>
<rect x="678" y="675" width="1" height="7" fill="#c0c0c0"/>
<rect x="686" y="675" width="1" height="16" fill="#c0c0c0"/>
<rect x="694" y="675" width="1" height="29" fill="#c0c0c0"/>
<rect x="702" y="675" width="1" height="37" fill="#c0c0c0"/>
<rect x="710" y="675" width="1" height="46" fill="#c0c0c0"/>
<rect x="718" y="675" width="1" height="53" fill="#c0c0c0"/>
<rect x="726" y="675" width="1" height="58" fill="#c0c0c0"/>
<rect x="734" y="675" width="1" height="60" fill="#c0c0c0"/>
<rect x="742" y="675" width="1" height="63" fill="#c0c0c0"/>
<rect x="750" y="675" width="1" height="66" fill="#c0c0c0"/>
<rect x="758" y="675" width="1" height="65" fill="#c0c0c0"/>
<rect x="766" y="675" width="1" height="62" fill="#c0c0c0"/>
<rect x="774" y="675" width="1" height="61" fill="#c0c0c0"/>
<rect x="782" y="675" width="1" height="56" fill="#c0c0c0"/>
<rect x="790" y="675" width="1" height="48" fill="#c0c0c0"/>
<rect x="798" y="675" width="1" height="39" fill="#c0c0c0"/>
<rect x="806" y="675" width="1" height="42" fill="#c0c0c0"/>
<rect x="814" y="675" width="1" height="40" fill="#c0c0c0"/>
<rect x="822" y="675" width="1" height="43" fill="#c0c0c0"/>
<rect x="830" y="675" width="1" height="42" fill="#c0c0c0"/>
<rect x="838" y="675" width="1" height="42" fill="#c0c0c0"/>
<rect x="846" y="675" width="1" height="42" fill="#c0c0c0"/>
<rect x="854" y="675" width="1" height="39" fill="#c0c0c0"/>
<rect x="862" y="675" width="1" height="41" fill="#c0c0c0"/>
<rect x="870" y="675" width="1" height="42" fill="#c0c0c0"/>
<rect x="878" y="675" width="1" height="38" fill="#c0c0c0"/>
<rect x="886" y="675" width="1" height="31" fill="#c0c0c0"/>
<rect x="894" y="675" width="1" height="31" fill="#c0c0c0"/>
<rect x="902" y="675" width="1" height="32" fill="#c0c0c0"/>
<rect x="910" y="675" width="1" height="34" fill="#c0c0c0"/>
<rect x="918" y="675" width="1" height="37" fill="#c0c0c0"/>
<rect x="926" y="675" width="1" height="37" fill="#c0c0c0"/>
<rect x="934" y="675" width="1" height="38" fill="#c0c0c0"/>
<rect x="942" y="675" width="1" height="37" fill="#c0c0c0"/>
<rect x="950" y="675" width="1" height="35" fill="#c0c0c0"/>
<rect x="958" y="675" width="1" height="34" fill="#c0c0c0"/>
<rect x="966" y="675" width="1" height="32" fill="#c0c0c0"/>
<rect x="974" y="675" width="1" height="25" fill="#c0c0c0"/>
<rect x="982" y="675" width="1" height="21" fill="#c0c0c0"/>
<rect x="990" y="675" width="1" height="18" fill="#c0c0c0"/>
<rect x="998" y="675" width="1" height="16" fill="#c0c0c0"/>
<rect x="1006" y="675" width="1" height="12" fill="#c0c0c0"/>
<rect x="1014" y="675" width="1" height="4" fill="#c0c0c0"/>
<rect x="1022" y="675" width="1" height="2" fill="#c0c0c0"/>
<rect x="1030" y="675" width="1" height="2" fill="#c0c0c0"/>
<rect x="1038" y="675" width="1" height="3" fill="#c0c0c0"/>
<rect x="1046" y="675" width="1" height="3" fill="#c0c0c0"/>
<rect x="1054" y="675" width="1" height="4" fill="#c0c0c0"/>
<rect x="1062" y="675" width="1" height="4" fill="#c0c0c0"/>
<rect x="1070" y="675" width="1" height="7" fill="#c0c0c0"/>
<rect x="1078" y="675" width="1" height="12" fill="#c0c0c0"/>
<rect x="1086" y="675" width="1" height="15" fill="#c0c0c0"/>
<rect x="1094" y="675" width="1" height="20" fill="#c0c0c0"/>
<rect x="1102" y="675" width="1" height="26" fill="#c0c0c0"/>
<rect x="1110" y="675" width="1" height="29" fill="#c0c0c0"/>
<rect x="1118" y="675" width="1" height="32" fill="#c0c0c0"/>
<rect x="1126" y="675" width="1" height="37" fill="#c0c0c0"/>
<rect x="1134" y="675" width="1" height="39" fill="#c0c0c0"/>
<rect x="1142" y="675" width="1" height="44" fill="#c0c0c0"/>
<rect x="1150" y="675" width="1" height="48" fill="#c0c0c0"/>
<rect x="1158" y="675" width="1" height="52" fill="#c0c0c0"/>
<rect x="1166" y="675" width="1" height="57" fill="#c0c0c0"/>
<rect x="1174" y="675" width="1" height="62" fill="#c0c0c0"/>
<rect x="1182" y="675" width="1" height="65" fill="#c0c0c0"/>
<rect x="1190" y="675" width="1" height="63" fill="#c0c0c0"/>
<rect x="1198" y="675" width="1" height="62" fill="#c0c0c0"/>
<rect x="1206" y="675" width="1" height="62" fill="#c0c0c0"/>
<rect x="1214" y="675" width="1" height="64" fill="#c0c0c0"/>
<rect x="1222" y="675" width="1" height="62" fill="#c0c0c0"/>
<rect x="1230" y="675" width="1" height="63" fill="#c0c0c0"/>
<rect x="1238" y="675" width="1" height="62" fill="#c0c0c0"/>
<rect x="1246" y="675" width="1" height="59" fill="#c0c0c0"/>
<rect x="1254" y="675" width="1" height="57" fill="#c0c0c0"/>
<rect x="1262" y="675" width="1" height="53" fill="#c0c0c0"/>
<rect x="1270" y="675" width="1" height="49" fill="#c0c0c0"/>
<rect x="1278" y="675" width="1" height="45" fill="#c0c0c0"/>
<rect x="1286" y="675" width="1" height="42" fill="#c0c0c0"/>
<rect x="1294" y="675" width="1" height="38" fill="#c0c0c0"/>
<rect x="1302" y="675" width="1" height="38" fill="#c0c0c0"/>
<rect x="1310" y="675" width="1" height="44" fill="#c0c0c0"/>
<rect x="1318" y="675" width="1" height="50" fill="#c0c0c0"/>
<rect x="1326" y="675" width="1" height="55" fill="#c0c0c0"/>
<rect x="1334" y="675" width="1" height="58" fill="#c0c0c0"/>
<rect x="1342" y="675" width="1" height="62" fill="#c0c0c0"/>
<rect x="1350" y="675" width="1" height="60" fill="#c0c0c0"/>
<rect x="1358" y="675" width="1" height="59" fill="#c0c0c0"/>
<rect x="1366" y="675" width="1" height="57" fill="#c0c0c0"/>
<rect x="1374" y="675" width="1" height="55" fill="#c0c0c0"/>
<rect x="1382" y="675" width="1" height="53" fill="#c0c0c0"/>
<rect x="1390" y="675" width="1" height="53" fill="#c0c0c0"/>
<rect x="1398" y="675" width="1" height="54" fill="#c0c0c0"/>
<rect x="1406" y="675" width="1" height="52" fill="#c0c0c0"/>
<rect x="1414" y="675" width="1" height="49" fill="#c0c0c0"/>
<rect x="1422" y="675" width="1" height="46" fill="#c0c0c0"/>
<rect x="1430" y="675" width="1" height="41" fill="#c0c0c0"/>
<rect x="1438" y="675" width="1" height="36" fill="#c0c0c0"/>
<rect x="1446" y="675" width="1" height="31" fill="#c0c0c0"/>
<rect x="1454" y="675" width="1" height="33" fill="#c0c0c0"/>
<rect x="1462" y="675" width="1" height="38" fill="#c0c0c0"/>
<rect x="1470" y="675" width="1" height="40" fill="#c0c0c0"/>
<polyline points="2.6,606.7 15.4,604 21.7,601.4 32.3,600.4 43,599.1 62.1,596.5 70.5,593.8 85.4,591.7 102.4,592.3 113,593.8 127.9,599.7 138.5,604 149.1,610.3 159.7,619.9 170.3,625.2 180.9,631.1 191.5,633.7 202.2,634.8 212.8,634.1 223.4,631.1 234,627.7 255.2,626.9 263.7,629 276.5,632 287.1,636.9 301.9,645.4 314.7,653.9 325.3,662.3 340.1,675.1 351.7,681.5 362.3,685.7 373,687.4 385.7,687.4 394.2,682.9 404.8,677.2 419.7,665.5 436.6,652.8 449.4,641.1 462.1,631.6 474.8,618.8 487.6,611.4 500.3,603.5 513.1,597.6 521.5,595.1 530,595.1 542.8,598 555.5,603.5 568.2,607.8 585.2,616.7 598,620.3 606.5,622 627.7,624.1 638.3,627.7 646.8,631.6 657.4,640.1 670.1,650.2 678.6,656 689.2,664.5 693.2,669.8 706,683.6 723,698.4 739.9,712.2 756.9,726 776,734.9 784.5,735.6 797.2,733 812.1,729.2 829.1,722.8 841.8,719.7 854.6,716.9 871.5,716.9 884.3,716 905.5,712.2 935.2,711.2 952.2,710.5 973.4,710.1 988.3,707.6 1003.2,702.7 1015.9,696.3 1028.6,689.9 1040.5,686.8 1045.4,683.6 1058.1,681 1081.4,680 1094.2,682.9 1109,687.8 1119.7,692.5 1136.6,700.6 1153.6,708.4 1170.6,717.5 1187.6,726 1204.6,731.8 1215.2,735.1 1232.2,737.7 1247,737.7 1259.8,736.2 1276.7,733.9 1289.5,729.6 1306.5,723.3 1323.4,722 1336.2,722 1348.9,725 1361.7,727.5 1370.1,729.8 1390.5,731.8 1399.9,732 1414.8,729.6 1423.3,727.8 1433.9,725.3 1442.4,722.5 1449.8,719.5 1463.6,717.4 1470.5,716.5" fill="none" stroke="#ff0000" stroke-width="1" stroke-dasharray="3 3"/>
</g>
<line x1="1431.5" y1="702.5" x2="1476.5" y2="717.36" stroke="#ff0000" stroke-width="3"/>
<polygon points="1486,720.5 1474.14,721.32 1476.97,712.78" fill="#ff0000"/>
<text x="-6" y="592" font-size="10" fill="#000" text-anchor="start" font-weight="normal" textLength="154" lengthAdjust="spacingAndGlyphs" stroke="#000" stroke-width="0.25">MACD(12,26,9) -0.002568 -0.002524</text>
<rect x="1650" y="581" width="1" height="1" fill="#000"/>
<text x="1653.4" y="589.8" font-size="10" fill="#000" text-anchor="start" font-weight="normal" textLength="37" lengthAdjust="spacingAndGlyphs" stroke="#000" stroke-width="0.25">0.005895</text>
<rect x="1650" y="675" width="1" height="1" fill="#000"/>
<text x="1653.4" y="678.8" font-size="10" fill="#000" text-anchor="start" font-weight="normal" textLength="17.3" lengthAdjust="spacingAndGlyphs" stroke="#000" stroke-width="0.25">0.00</text>
<rect x="1650" y="748" width="1" height="1" fill="#000"/>
<text x="1653" y="745.5" font-size="10" fill="#000" text-anchor="start" font-weight="normal" textLength="41" lengthAdjust="spacingAndGlyphs" stroke="#000" stroke-width="0.25">-0.004586</text>
<g clip-path="url(#cr)">
<line x1="3" y1="787.5" x2="1649" y2="787.5" stroke="#c0c0c0" stroke-width="1" stroke-dasharray="3 3" shape-rendering="crispEdges"/>
<line x1="3" y1="838.5" x2="1649" y2="838.5" stroke="#c0c0c0" stroke-width="1" stroke-dasharray="3 3" shape-rendering="crispEdges"/>
<line x1="3" y1="899.5" x2="1649" y2="899.5" stroke="#c0c0c0" stroke-width="1" stroke-dasharray="3 3" shape-rendering="crispEdges"/>
<polyline points="0.5,818.45 6.5,816.8 14.5,807.7 22.5,806 30.5,807.3 38.5,812.4 46.5,807.3 54.5,806 62.5,807.1 70.5,810.9 78.5,813 86.5,807.1 94.5,821.5 102.5,808.1 110.5,820.9 118.5,831 126.5,830 134.5,837.4 142.5,849.1 150.5,845.3 158.5,831 166.5,824.7 174.5,820.4 182.5,818.9 190.5,817.9 198.5,816.8 206.5,815.8 214.5,820 222.5,820 230.5,827.9 238.5,825.7 246.5,826.2 254.5,833.8 262.5,835.9 270.5,835.9 278.5,837.8 286.5,839.5 294.5,845.5 302.5,842.1 310.5,868.2 318.5,867.1 326.5,871.8 334.5,858.6 342.5,849.7 350.5,826.4 358.5,831 366.5,832.7 374.5,831 382.5,825.1 390.5,830.6 398.5,818.3 406.5,815.1 414.5,812.4 422.5,808.1 430.5,811.9 438.5,810.9 446.5,804.5 454.5,797.7 462.5,796.7 470.5,804.5 478.5,800.9 486.5,810.9 494.5,804.9 502.5,806.6 510.5,804.5 518.5,816.2 526.5,820.9 534.5,832.7 542.5,838.5 550.5,824 558.5,824.7 566.5,824.7 574.5,820.9 582.5,814.1 590.5,809.4 598.5,816.6 606.5,822.5 614.5,832.1 622.5,831 630.5,831 638.5,854.8 646.5,854.8 654.5,860.8 662.5,838.9 670.5,845.9 678.5,850.6 686.5,859.7 694.5,865.4 702.5,865 710.5,868.2 718.5,869.7 726.5,869.7 734.5,863.9 742.5,868.8 750.5,870.9 758.5,858.2 766.5,856.9 774.5,858.6 782.5,855.9 790.5,839.1 798.5,838 806.5,856.5 814.5,852.9 822.5,857.6 830.5,852.3 838.5,856.9 846.5,854 854.5,849.1 862.5,858.6 870.5,858.6 878.5,843.8 886.5,839.1 894.5,848.4 902.5,853.3 910.5,855.5 918.5,856.9 926.5,856.9 934.5,859.7 942.5,854.4 950.5,848 958.5,853.8 966.5,849.7 974.5,832.1 982.5,842.7 990.5,837.8 998.5,841.7 1006.5,834.2 1014.5,825.1 1022.5,833.8 1030.5,842.7 1038.5,841 1046.5,839.5 1054.5,843.8 1062.5,842.1 1070.5,850.6 1078.5,854 1086.5,855 1094.5,860.8 1102.5,864.6 1110.5,865 1118.5,866.5 1126.5,870.9 1134.5,868.6 1142.5,874.6 1150.5,876.7 1158.5,880.9 1166.5,885.8 1174.5,886.7 1182.5,886.7 1190.5,874.6 1198.5,869.9 1206.5,874.6 1214.5,880.9 1222.5,875 1230.5,878.8 1238.5,870.3 1246.5,867.1 1254.5,870.3 1262.5,853.3 1270.5,858.6 1278.5,853.3 1286.5,850.8 1294.5,854.4 1302.5,859.3 1310.5,877.7 1318.5,879.9 1326.5,881.6 1334.5,881.6 1342.5,882.6 1350.5,873.5 1358.5,870.7 1366.5,870.7 1374.5,867.8 1382.5,868.8 1390.5,875.6 1398.5,879.8 1406.5,866.5 1414.5,862.3 1422.5,858.5 1430.5,850.6 1438.5,844.7 1446.5,848.5 1454.5,867.6 1462.5,874 1470.5,872.7" fill="none" stroke="#1e90ff" stroke-width="1" shape-rendering="crispEdges"/>
</g>
<line x1="1432" y1="839" x2="1475.01" y2="873.84" stroke="#ff0000" stroke-width="3.2"/>
<polygon points="1482,879.5 1471.08,877.09 1477.38,869.32" fill="#ff0000"/>
<text x="-6" y="764" font-size="10" fill="#000" text-anchor="start" font-weight="normal" textLength="68" lengthAdjust="spacingAndGlyphs" stroke="#000" stroke-width="0.25">RSI(14) 30.3623</text>
<text x="1653" y="761.8" font-size="10" fill="#000" text-anchor="start" font-weight="normal" textLength="14.7" lengthAdjust="spacingAndGlyphs" stroke="#000" stroke-width="0.25">100</text>
<text x="1652" y="790.8" font-size="10" fill="#000" text-anchor="start" font-weight="normal" textLength="9.7" lengthAdjust="spacingAndGlyphs" stroke="#000" stroke-width="0.25">80</text>
<text x="1652" y="841.8" font-size="10" fill="#000" text-anchor="start" font-weight="normal" textLength="9.7" lengthAdjust="spacingAndGlyphs" stroke="#000" stroke-width="0.25">50</text>
<text x="1652" y="902.8" font-size="10" fill="#000" text-anchor="start" font-weight="normal" textLength="9.7" lengthAdjust="spacingAndGlyphs" stroke="#000" stroke-width="0.25">15</text>
<text x="1652" y="922.8" font-size="10" fill="#000" text-anchor="start" font-weight="normal" textLength="5" lengthAdjust="spacingAndGlyphs" stroke="#000" stroke-width="0.25">0</text>
<rect x="1650" y="753" width="1" height="1" fill="#000"/>
<text x="2.5" y="939" font-size="10" fill="#000" text-anchor="start" font-weight="normal" textLength="37.74" lengthAdjust="spacingAndGlyphs" stroke="#000" stroke-width="0.25">Apr 2022</text>
<rect x="54" y="926" width="1" height="3" fill="#000"/>
<text x="53" y="939" font-size="10" fill="#000" text-anchor="start" font-weight="normal" textLength="54.04" lengthAdjust="spacingAndGlyphs" stroke="#000" stroke-width="0.25">27 Apr 08:00</text>
<rect x="118" y="926" width="1" height="3" fill="#000"/>
<text x="117" y="939" font-size="10" fill="#000" text-anchor="start" font-weight="normal" textLength="54.04" lengthAdjust="spacingAndGlyphs" stroke="#000" stroke-width="0.25">28 Apr 16:00</text>
<rect x="182" y="926" width="1" height="3" fill="#000"/>
<text x="181" y="939" font-size="10" fill="#000" text-anchor="start" font-weight="normal" textLength="52.44" lengthAdjust="spacingAndGlyphs" stroke="#000" stroke-width="0.25">2 May 00:00</text>
<rect x="246" y="926" width="1" height="3" fill="#000"/>
<text x="245" y="939" font-size="10" fill="#000" text-anchor="start" font-weight="normal" textLength="52.44" lengthAdjust="spacingAndGlyphs" stroke="#000" stroke-width="0.25">3 May 08:00</text>
<rect x="310" y="926" width="1" height="3" fill="#000"/>
<text x="309" y="939" font-size="10" fill="#000" text-anchor="start" font-weight="normal" textLength="52.44" lengthAdjust="spacingAndGlyphs" stroke="#000" stroke-width="0.25">4 May 16:00</text>
<rect x="374" y="926" width="1" height="3" fill="#000"/>
<text x="373" y="939" font-size="10" fill="#000" text-anchor="start" font-weight="normal" textLength="52.44" lengthAdjust="spacingAndGlyphs" stroke="#000" stroke-width="0.25">6 May 00:00</text>
<rect x="438" y="926" width="1" height="3" fill="#000"/>
<text x="437" y="939" font-size="10" fill="#000" text-anchor="start" font-weight="normal" textLength="52.44" lengthAdjust="spacingAndGlyphs" stroke="#000" stroke-width="0.25">9 May 08:00</text>
<rect x="502" y="926" width="1" height="3" fill="#000"/>
<text x="501" y="939" font-size="10" fill="#000" text-anchor="start" font-weight="normal" textLength="57.74" lengthAdjust="spacingAndGlyphs" stroke="#000" stroke-width="0.25">10 May 16:00</text>
<rect x="566" y="926" width="1" height="3" fill="#000"/>
<text x="565" y="939" font-size="10" fill="#000" text-anchor="start" font-weight="normal" textLength="57.74" lengthAdjust="spacingAndGlyphs" stroke="#000" stroke-width="0.25">12 May 00:00</text>
<rect x="630" y="926" width="1" height="3" fill="#000"/>
<text x="629" y="939" font-size="10" fill="#000" text-anchor="start" font-weight="normal" textLength="57.74" lengthAdjust="spacingAndGlyphs" stroke="#000" stroke-width="0.25">13 May 08:00</text>
<rect x="694" y="926" width="1" height="3" fill="#000"/>
<text x="693" y="939" font-size="10" fill="#000" text-anchor="start" font-weight="normal" textLength="57.74" lengthAdjust="spacingAndGlyphs" stroke="#000" stroke-width="0.25">16 May 16:00</text>
<rect x="758" y="926" width="1" height="3" fill="#000"/>
<text x="757" y="939" font-size="10" fill="#000" text-anchor="start" font-weight="normal" textLength="57.74" lengthAdjust="spacingAndGlyphs" stroke="#000" stroke-width="0.25">18 May 00:00</text>
<rect x="822" y="926" width="1" height="3" fill="#000"/>
<text x="821" y="939" font-size="10" fill="#000" text-anchor="start" font-weight="normal" textLength="57.74" lengthAdjust="spacingAndGlyphs" stroke="#000" stroke-width="0.25">19 May 08:00</text>
<rect x="886" y="926" width="1" height="3" fill="#000"/>
<text x="885" y="939" font-size="10" fill="#000" text-anchor="start" font-weight="normal" textLength="57.74" lengthAdjust="spacingAndGlyphs" stroke="#000" stroke-width="0.25">20 May 16:00</text>
<rect x="950" y="926" width="1" height="3" fill="#000"/>
<text x="949" y="939" font-size="10" fill="#000" text-anchor="start" font-weight="normal" textLength="57.74" lengthAdjust="spacingAndGlyphs" stroke="#000" stroke-width="0.25">24 May 00:00</text>
<rect x="1014" y="926" width="1" height="3" fill="#000"/>
<text x="1013" y="939" font-size="10" fill="#000" text-anchor="start" font-weight="normal" textLength="57.74" lengthAdjust="spacingAndGlyphs" stroke="#000" stroke-width="0.25">25 May 08:00</text>
<rect x="1078" y="926" width="1" height="3" fill="#000"/>
<text x="1077" y="939" font-size="10" fill="#000" text-anchor="start" font-weight="normal" textLength="57.74" lengthAdjust="spacingAndGlyphs" stroke="#000" stroke-width="0.25">26 May 16:00</text>
<rect x="1142" y="926" width="1" height="3" fill="#000"/>
<text x="1141" y="939" font-size="10" fill="#000" text-anchor="start" font-weight="normal" textLength="57.74" lengthAdjust="spacingAndGlyphs" stroke="#000" stroke-width="0.25">30 May 00:00</text>
<rect x="1206" y="926" width="1" height="3" fill="#000"/>
<text x="1205" y="939" font-size="10" fill="#000" text-anchor="start" font-weight="normal" textLength="57.74" lengthAdjust="spacingAndGlyphs" stroke="#000" stroke-width="0.25">31 May 08:00</text>
<rect x="1270" y="926" width="1" height="3" fill="#000"/>
<text x="1269" y="939" font-size="10" fill="#000" text-anchor="start" font-weight="normal" textLength="49.8" lengthAdjust="spacingAndGlyphs" stroke="#000" stroke-width="0.25">1 Jun 16:00</text>
<rect x="1334" y="926" width="1" height="3" fill="#000"/>
<text x="1333" y="939" font-size="10" fill="#000" text-anchor="start" font-weight="normal" textLength="49.8" lengthAdjust="spacingAndGlyphs" stroke="#000" stroke-width="0.25">3 Jun 00:00</text>
<rect x="1398" y="926" width="1" height="3" fill="#000"/>
<text x="1397" y="939" font-size="10" fill="#000" text-anchor="start" font-weight="normal" textLength="49.8" lengthAdjust="spacingAndGlyphs" stroke="#000" stroke-width="0.25">6 Jun 08:00</text>
<rect x="1462" y="926" width="1" height="3" fill="#000"/>
<text x="1461" y="939" font-size="10" fill="#000" text-anchor="start" font-weight="normal" textLength="49.8" lengthAdjust="spacingAndGlyphs" stroke="#000" stroke-width="0.25">7 Jun 16:00</text>
</svg>
</body></html>
